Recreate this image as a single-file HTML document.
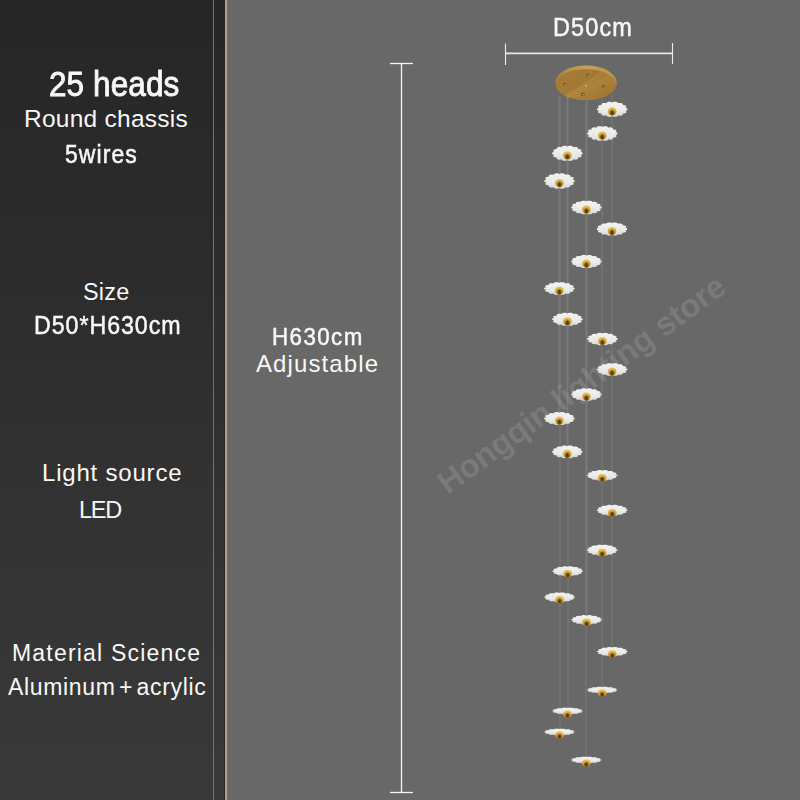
<!DOCTYPE html>
<html><head><meta charset="utf-8"><style>
html,body{margin:0;padding:0;}
body{width:800px;height:800px;position:relative;overflow:hidden;background:#686868;font-family:"Liberation Sans",sans-serif;}
#left{position:absolute;left:0;top:0;width:225px;height:800px;background:linear-gradient(to bottom,#262626 0%,#2c2c2c 35%,#333333 65%,#393939 100%);}
#l1{position:absolute;left:213px;top:0;width:1px;height:800px;background:#76726c;}
#l2{position:absolute;left:224px;top:0;width:1px;height:800px;background:#2c2622;}
#l3{position:absolute;left:225px;top:0;width:2px;height:800px;background:#ab9d8f;}
#l4{position:absolute;left:227px;top:0;width:1px;height:800px;background:#746c69;}
.t{position:absolute;color:#f8f8f8;white-space:nowrap;line-height:1;}
.m{-webkit-text-stroke:0.5px #f8f8f8;}
.wm{position:absolute;color:rgba(255,255,255,0.125);font-weight:bold;white-space:nowrap;line-height:1;transform-origin:0 100%;}
</style></head><body>
<div id="left"></div><div id="l1"></div><div id="l2"></div><div id="l3"></div><div id="l4"></div>
<div class="wm" style="left:451px;top:467px;font-size:32.5px;transform:rotate(-36deg)">Hongqin lighting store</div>
<svg width="800" height="800" viewBox="0 0 800 800" style="position:absolute;left:0;top:0">
<defs>
<linearGradient id="can" x1="0" y1="0" x2="1" y2="1"><stop offset="0" stop-color="#a87e36"/><stop offset="0.45" stop-color="#a27834"/><stop offset="0.55" stop-color="#ad843c"/><stop offset="1" stop-color="#97702e"/></linearGradient>
<linearGradient id="rim" x1="0" y1="0" x2="1" y2="0"><stop offset="0" stop-color="#a88240"/><stop offset="0.5" stop-color="#c8a252"/><stop offset="1" stop-color="#bb9448"/></linearGradient>
<linearGradient id="dome" x1="0" y1="0" x2="0" y2="1"><stop offset="0" stop-color="#eac452"/><stop offset="0.5" stop-color="#d2a43c"/><stop offset="1" stop-color="#ae8228"/></linearGradient>
<radialGradient id="domec" cx="0.5" cy="0.6" r="0.55"><stop offset="0" stop-color="#4a3006"/><stop offset="0.55" stop-color="#6a4a10" stop-opacity="0.9"/><stop offset="1" stop-color="#8a6018" stop-opacity="0"/></radialGradient>
<linearGradient id="disc" x1="0" y1="0" x2="0" y2="1"><stop offset="0" stop-color="#f2f2f0"/><stop offset="0.6" stop-color="#eaeae6"/><stop offset="1" stop-color="#d6d6d2"/></linearGradient>
<filter id="bl" x="-20%" y="-20%" width="140%" height="140%"><feGaussianBlur stdDeviation="0.35"/></filter>
</defs>
<line x1="612" y1="96" x2="612" y2="651.6" stroke="#aaa69f" stroke-width="0.6" opacity="0.55"/>
<line x1="602" y1="96" x2="602" y2="690.0" stroke="#aaa69f" stroke-width="0.6" opacity="0.55"/>
<line x1="567" y1="96" x2="567" y2="451.8" stroke="#aaa69f" stroke-width="0.6" opacity="0.55"/>
<line x1="560" y1="96" x2="560" y2="732.0" stroke="#aaa69f" stroke-width="0.6" opacity="0.55"/>
<line x1="586" y1="96" x2="586" y2="760.0" stroke="#aaa69f" stroke-width="0.6" opacity="0.55"/>
<line x1="559" y1="96" x2="559" y2="418.5" stroke="#aaa69f" stroke-width="0.6" opacity="0.55"/>
<line x1="568" y1="96" x2="568" y2="711.0" stroke="#aaa69f" stroke-width="0.6" opacity="0.55"/>
<line x1="587" y1="96" x2="587" y2="619.8" stroke="#aaa69f" stroke-width="0.6" opacity="0.55"/>
<g filter="url(#bl)">
<ellipse cx="586" cy="82.7" rx="30.6" ry="17.3" fill="url(#rim)"/>
<ellipse cx="586" cy="84.6" rx="30.3" ry="15.4" fill="url(#can)"/>
<path d="M566,97 L606,70" stroke="#bb9248" stroke-width="3" opacity="0.35"/>
<ellipse cx="587.8" cy="75.3" rx="1.7" ry="1.5" fill="#6a4c20"/>
<ellipse cx="588.1999999999999" cy="75.7" rx="0.8" ry="0.7" fill="#d8c090"/>
<ellipse cx="564.9" cy="84.3" rx="1.7" ry="1.5" fill="#6a4c20"/>
<ellipse cx="565.3" cy="84.7" rx="0.8" ry="0.7" fill="#d8c090"/>
<ellipse cx="604" cy="86.5" rx="1.7" ry="1.5" fill="#6a4c20"/>
<ellipse cx="604.4" cy="86.9" rx="0.8" ry="0.7" fill="#d8c090"/>
<ellipse cx="582.9" cy="94.2" rx="1.7" ry="1.5" fill="#6a4c20"/>
<ellipse cx="583.3" cy="94.60000000000001" rx="0.8" ry="0.7" fill="#d8c090"/>
<circle cx="586" cy="85.7" r="1" fill="#d0b070"/>
</g>
<g filter="url(#bl)"><path d="M625.11,110.78 L625.92,111.15 L626.21,111.48 L626.35,111.79 L626.37,112.10 L626.27,112.39 L626.07,112.66 L625.78,112.91 L625.38,113.13 L624.90,113.31 L624.32,113.46 L623.63,113.54 L622.55,113.46 L622.96,113.96 L622.95,114.32 L622.80,114.64 L622.55,114.92 L622.22,115.16 L621.80,115.36 L621.32,115.52 L620.77,115.63 L620.18,115.69 L619.53,115.69 L618.84,115.62 L617.95,115.30 L617.88,115.85 L617.56,116.17 L617.15,116.42 L616.69,116.62 L616.17,116.76 L615.63,116.86 L615.05,116.89 L614.47,116.87 L613.88,116.80 L613.30,116.66 L612.73,116.44 L612.20,115.97 L611.67,116.44 L611.10,116.66 L610.52,116.80 L609.93,116.87 L609.35,116.89 L608.77,116.86 L608.23,116.76 L607.71,116.62 L607.25,116.42 L606.84,116.17 L606.52,115.85 L606.45,115.30 L605.56,115.62 L604.87,115.69 L604.22,115.69 L603.63,115.63 L603.08,115.52 L602.60,115.36 L602.18,115.16 L601.85,114.92 L601.60,114.64 L601.45,114.32 L601.44,113.96 L601.85,113.46 L600.77,113.54 L600.08,113.46 L599.50,113.31 L599.02,113.13 L598.62,112.91 L598.33,112.66 L598.13,112.39 L598.03,112.10 L598.05,111.79 L598.19,111.48 L598.48,111.15 L599.29,110.78 L598.25,110.63 L597.70,110.40 L597.30,110.14 L597.02,109.87 L596.86,109.59 L596.80,109.30 L596.86,109.01 L597.02,108.73 L597.30,108.46 L597.70,108.20 L598.25,107.97 L599.29,107.82 L598.48,107.45 L598.19,107.12 L598.05,106.81 L598.03,106.50 L598.13,106.21 L598.33,105.94 L598.62,105.69 L599.02,105.47 L599.50,105.29 L600.08,105.14 L600.77,105.06 L601.85,105.14 L601.44,104.64 L601.45,104.28 L601.60,103.96 L601.85,103.68 L602.18,103.44 L602.60,103.24 L603.08,103.08 L603.63,102.97 L604.22,102.91 L604.87,102.91 L605.56,102.98 L606.45,103.30 L606.52,102.75 L606.84,102.43 L607.25,102.18 L607.71,101.98 L608.23,101.84 L608.77,101.74 L609.35,101.71 L609.93,101.73 L610.52,101.80 L611.10,101.94 L611.67,102.16 L612.20,102.63 L612.73,102.16 L613.30,101.94 L613.88,101.80 L614.47,101.73 L615.05,101.71 L615.63,101.74 L616.17,101.84 L616.69,101.98 L617.15,102.18 L617.56,102.43 L617.88,102.75 L617.95,103.30 L618.84,102.98 L619.53,102.91 L620.18,102.91 L620.77,102.97 L621.32,103.08 L621.80,103.24 L622.22,103.44 L622.55,103.68 L622.80,103.96 L622.95,104.28 L622.96,104.64 L622.55,105.14 L623.63,105.06 L624.32,105.14 L624.90,105.29 L625.38,105.47 L625.78,105.69 L626.07,105.94 L626.27,106.21 L626.37,106.50 L626.35,106.81 L626.21,107.12 L625.92,107.45 L625.11,107.82 L626.15,107.97 L626.70,108.20 L627.10,108.46 L627.38,108.73 L627.54,109.01 L627.60,109.30 L627.54,109.59 L627.38,109.87 L627.10,110.14 L626.70,110.40 L626.15,110.63Z" fill="url(#disc)"/>
<ellipse cx="612.2" cy="111.3" rx="4.3" ry="4.0" fill="url(#dome)"/>
<ellipse cx="612.2" cy="112.2" rx="2.6" ry="3.4" fill="url(#domec)"/></g>
<g filter="url(#bl)"><path d="M615.21,134.94 L616.02,135.29 L616.31,135.61 L616.45,135.91 L616.47,136.21 L616.37,136.49 L616.17,136.75 L615.88,136.99 L615.48,137.21 L615.00,137.39 L614.42,137.52 L613.73,137.61 L612.65,137.52 L613.06,138.01 L613.05,138.36 L612.90,138.66 L612.65,138.93 L612.32,139.17 L611.90,139.36 L611.42,139.52 L610.87,139.63 L610.28,139.68 L609.63,139.69 L608.94,139.62 L608.05,139.31 L607.98,139.84 L607.66,140.15 L607.25,140.39 L606.79,140.58 L606.27,140.72 L605.73,140.81 L605.15,140.85 L604.57,140.83 L603.98,140.76 L603.40,140.62 L602.83,140.41 L602.30,139.95 L601.77,140.41 L601.20,140.62 L600.62,140.76 L600.03,140.83 L599.45,140.85 L598.87,140.81 L598.33,140.72 L597.81,140.58 L597.35,140.39 L596.94,140.15 L596.62,139.84 L596.55,139.31 L595.66,139.62 L594.97,139.69 L594.32,139.68 L593.73,139.63 L593.18,139.52 L592.70,139.36 L592.28,139.17 L591.95,138.93 L591.70,138.66 L591.55,138.36 L591.54,138.01 L591.95,137.52 L590.87,137.61 L590.18,137.52 L589.60,137.39 L589.12,137.21 L588.72,136.99 L588.43,136.75 L588.23,136.49 L588.13,136.21 L588.15,135.91 L588.29,135.61 L588.58,135.29 L589.39,134.94 L588.35,134.79 L587.80,134.56 L587.40,134.32 L587.12,134.05 L586.96,133.78 L586.90,133.50 L586.96,133.22 L587.12,132.95 L587.40,132.68 L587.80,132.44 L588.35,132.21 L589.39,132.06 L588.58,131.71 L588.29,131.39 L588.15,131.09 L588.13,130.79 L588.23,130.51 L588.43,130.25 L588.72,130.01 L589.12,129.79 L589.60,129.61 L590.18,129.48 L590.87,129.39 L591.95,129.48 L591.54,128.99 L591.55,128.64 L591.70,128.34 L591.95,128.07 L592.28,127.83 L592.70,127.64 L593.18,127.48 L593.73,127.37 L594.32,127.32 L594.97,127.31 L595.66,127.38 L596.55,127.69 L596.62,127.16 L596.94,126.85 L597.35,126.61 L597.81,126.42 L598.33,126.28 L598.87,126.19 L599.45,126.15 L600.03,126.17 L600.62,126.24 L601.20,126.38 L601.77,126.59 L602.30,127.05 L602.83,126.59 L603.40,126.38 L603.98,126.24 L604.57,126.17 L605.15,126.15 L605.73,126.19 L606.27,126.28 L606.79,126.42 L607.25,126.61 L607.66,126.85 L607.98,127.16 L608.05,127.69 L608.94,127.38 L609.63,127.31 L610.28,127.32 L610.87,127.37 L611.42,127.48 L611.90,127.64 L612.32,127.83 L612.65,128.07 L612.90,128.34 L613.05,128.64 L613.06,128.99 L612.65,129.48 L613.73,129.39 L614.42,129.48 L615.00,129.61 L615.48,129.79 L615.88,130.01 L616.17,130.25 L616.37,130.51 L616.47,130.79 L616.45,131.09 L616.31,131.39 L616.02,131.71 L615.21,132.06 L616.25,132.21 L616.80,132.44 L617.20,132.68 L617.48,132.95 L617.64,133.22 L617.70,133.50 L617.64,133.78 L617.48,134.05 L617.20,134.32 L616.80,134.56 L616.25,134.79Z" fill="url(#disc)"/>
<ellipse cx="602.3" cy="135.5" rx="4.3" ry="4.0" fill="url(#dome)"/>
<ellipse cx="602.3" cy="136.4" rx="2.6" ry="3.4" fill="url(#domec)"/></g>
<g filter="url(#bl)"><path d="M580.31,154.78 L581.12,155.15 L581.41,155.48 L581.55,155.79 L581.57,156.10 L581.47,156.39 L581.27,156.66 L580.98,156.91 L580.58,157.13 L580.10,157.31 L579.52,157.46 L578.83,157.54 L577.75,157.46 L578.16,157.96 L578.15,158.32 L578.00,158.64 L577.75,158.92 L577.42,159.16 L577.00,159.36 L576.52,159.52 L575.97,159.63 L575.38,159.69 L574.73,159.69 L574.04,159.62 L573.15,159.30 L573.08,159.85 L572.76,160.17 L572.35,160.42 L571.89,160.62 L571.37,160.76 L570.83,160.86 L570.25,160.89 L569.67,160.87 L569.08,160.80 L568.50,160.66 L567.93,160.44 L567.40,159.97 L566.87,160.44 L566.30,160.66 L565.72,160.80 L565.13,160.87 L564.55,160.89 L563.97,160.86 L563.43,160.76 L562.91,160.62 L562.45,160.42 L562.04,160.17 L561.72,159.85 L561.65,159.30 L560.76,159.62 L560.07,159.69 L559.42,159.69 L558.83,159.63 L558.28,159.52 L557.80,159.36 L557.38,159.16 L557.05,158.92 L556.80,158.64 L556.65,158.32 L556.64,157.96 L557.05,157.46 L555.97,157.54 L555.28,157.46 L554.70,157.31 L554.22,157.13 L553.82,156.91 L553.53,156.66 L553.33,156.39 L553.23,156.10 L553.25,155.79 L553.39,155.48 L553.68,155.15 L554.49,154.78 L553.45,154.63 L552.90,154.40 L552.50,154.14 L552.22,153.87 L552.06,153.59 L552.00,153.30 L552.06,153.01 L552.22,152.73 L552.50,152.46 L552.90,152.20 L553.45,151.97 L554.49,151.82 L553.68,151.45 L553.39,151.12 L553.25,150.81 L553.23,150.50 L553.33,150.21 L553.53,149.94 L553.82,149.69 L554.22,149.47 L554.70,149.29 L555.28,149.14 L555.97,149.06 L557.05,149.14 L556.64,148.64 L556.65,148.28 L556.80,147.96 L557.05,147.68 L557.38,147.44 L557.80,147.24 L558.28,147.08 L558.83,146.97 L559.42,146.91 L560.07,146.91 L560.76,146.98 L561.65,147.30 L561.72,146.75 L562.04,146.43 L562.45,146.18 L562.91,145.98 L563.43,145.84 L563.97,145.74 L564.55,145.71 L565.13,145.73 L565.72,145.80 L566.30,145.94 L566.87,146.16 L567.40,146.63 L567.93,146.16 L568.50,145.94 L569.08,145.80 L569.67,145.73 L570.25,145.71 L570.83,145.74 L571.37,145.84 L571.89,145.98 L572.35,146.18 L572.76,146.43 L573.08,146.75 L573.15,147.30 L574.04,146.98 L574.73,146.91 L575.38,146.91 L575.97,146.97 L576.52,147.08 L577.00,147.24 L577.42,147.44 L577.75,147.68 L578.00,147.96 L578.15,148.28 L578.16,148.64 L577.75,149.14 L578.83,149.06 L579.52,149.14 L580.10,149.29 L580.58,149.47 L580.98,149.69 L581.27,149.94 L581.47,150.21 L581.57,150.50 L581.55,150.81 L581.41,151.12 L581.12,151.45 L580.31,151.82 L581.35,151.97 L581.90,152.20 L582.30,152.46 L582.58,152.73 L582.74,153.01 L582.80,153.30 L582.74,153.59 L582.58,153.87 L582.30,154.14 L581.90,154.40 L581.35,154.63Z" fill="url(#disc)"/>
<ellipse cx="567.4" cy="155.3" rx="4.3" ry="4.0" fill="url(#dome)"/>
<ellipse cx="567.4" cy="156.2" rx="2.6" ry="3.4" fill="url(#domec)"/></g>
<g filter="url(#bl)"><path d="M572.41,182.51 L573.22,182.89 L573.51,183.22 L573.65,183.54 L573.67,183.85 L573.57,184.15 L573.37,184.43 L573.08,184.68 L572.68,184.90 L572.20,185.09 L571.62,185.24 L570.93,185.33 L569.85,185.24 L570.26,185.75 L570.25,186.12 L570.10,186.44 L569.85,186.72 L569.52,186.97 L569.10,187.18 L568.62,187.34 L568.07,187.45 L567.48,187.51 L566.83,187.52 L566.14,187.44 L565.25,187.12 L565.18,187.68 L564.86,188.00 L564.45,188.26 L563.99,188.46 L563.47,188.61 L562.93,188.70 L562.35,188.74 L561.77,188.72 L561.18,188.64 L560.60,188.50 L560.03,188.28 L559.50,187.79 L558.97,188.28 L558.40,188.50 L557.82,188.64 L557.23,188.72 L556.65,188.74 L556.07,188.70 L555.53,188.61 L555.01,188.46 L554.55,188.26 L554.14,188.00 L553.82,187.68 L553.75,187.12 L552.86,187.44 L552.17,187.52 L551.52,187.51 L550.93,187.45 L550.38,187.34 L549.90,187.18 L549.48,186.97 L549.15,186.72 L548.90,186.44 L548.75,186.12 L548.74,185.75 L549.15,185.24 L548.07,185.33 L547.38,185.24 L546.80,185.09 L546.32,184.90 L545.92,184.68 L545.63,184.43 L545.43,184.15 L545.33,183.85 L545.35,183.54 L545.49,183.22 L545.78,182.89 L546.59,182.51 L545.55,182.35 L545.00,182.12 L544.60,181.86 L544.32,181.58 L544.16,181.29 L544.10,181.00 L544.16,180.71 L544.32,180.42 L544.60,180.14 L545.00,179.88 L545.55,179.65 L546.59,179.49 L545.78,179.11 L545.49,178.78 L545.35,178.46 L545.33,178.15 L545.43,177.85 L545.63,177.57 L545.92,177.32 L546.32,177.10 L546.80,176.91 L547.38,176.76 L548.07,176.67 L549.15,176.76 L548.74,176.25 L548.75,175.88 L548.90,175.56 L549.15,175.28 L549.48,175.03 L549.90,174.82 L550.38,174.66 L550.93,174.55 L551.52,174.49 L552.17,174.48 L552.86,174.56 L553.75,174.88 L553.82,174.32 L554.14,174.00 L554.55,173.74 L555.01,173.54 L555.53,173.39 L556.07,173.30 L556.65,173.26 L557.23,173.28 L557.82,173.36 L558.40,173.50 L558.97,173.72 L559.50,174.21 L560.03,173.72 L560.60,173.50 L561.18,173.36 L561.77,173.28 L562.35,173.26 L562.93,173.30 L563.47,173.39 L563.99,173.54 L564.45,173.74 L564.86,174.00 L565.18,174.32 L565.25,174.88 L566.14,174.56 L566.83,174.48 L567.48,174.49 L568.07,174.55 L568.62,174.66 L569.10,174.82 L569.52,175.03 L569.85,175.28 L570.10,175.56 L570.25,175.88 L570.26,176.25 L569.85,176.76 L570.93,176.67 L571.62,176.76 L572.20,176.91 L572.68,177.10 L573.08,177.32 L573.37,177.57 L573.57,177.85 L573.67,178.15 L573.65,178.46 L573.51,178.78 L573.22,179.11 L572.41,179.49 L573.45,179.65 L574.00,179.88 L574.40,180.14 L574.68,180.42 L574.84,180.71 L574.90,181.00 L574.84,181.29 L574.68,181.58 L574.40,181.86 L574.00,182.12 L573.45,182.35Z" fill="url(#disc)"/>
<ellipse cx="559.5" cy="183.0" rx="4.3" ry="4.0" fill="url(#dome)"/>
<ellipse cx="559.5" cy="183.9" rx="2.6" ry="3.4" fill="url(#domec)"/></g>
<g filter="url(#bl)"><path d="M599.31,208.84 L600.12,209.17 L600.41,209.47 L600.55,209.75 L600.57,210.03 L600.47,210.29 L600.27,210.54 L599.98,210.76 L599.58,210.96 L599.10,211.13 L598.52,211.26 L597.83,211.33 L596.75,211.25 L597.16,211.71 L597.15,212.03 L597.00,212.32 L596.75,212.57 L596.42,212.79 L596.00,212.97 L595.52,213.12 L594.97,213.22 L594.38,213.27 L593.73,213.27 L593.04,213.21 L592.15,212.92 L592.08,213.42 L591.76,213.71 L591.35,213.93 L590.89,214.11 L590.37,214.24 L589.83,214.32 L589.25,214.36 L588.67,214.34 L588.08,214.27 L587.50,214.15 L586.93,213.95 L586.40,213.52 L585.87,213.95 L585.30,214.15 L584.72,214.27 L584.13,214.34 L583.55,214.36 L582.97,214.32 L582.43,214.24 L581.91,214.11 L581.45,213.93 L581.04,213.71 L580.72,213.42 L580.65,212.92 L579.76,213.21 L579.07,213.27 L578.42,213.27 L577.83,213.22 L577.28,213.12 L576.80,212.97 L576.38,212.79 L576.05,212.57 L575.80,212.32 L575.65,212.03 L575.64,211.71 L576.05,211.25 L574.97,211.33 L574.28,211.26 L573.70,211.13 L573.22,210.96 L572.82,210.76 L572.53,210.54 L572.33,210.29 L572.23,210.03 L572.25,209.75 L572.39,209.47 L572.68,209.17 L573.49,208.84 L572.45,208.70 L571.90,208.49 L571.50,208.26 L571.22,208.02 L571.06,207.76 L571.00,207.50 L571.06,207.24 L571.22,206.98 L571.50,206.74 L571.90,206.51 L572.45,206.30 L573.49,206.16 L572.68,205.83 L572.39,205.53 L572.25,205.25 L572.23,204.97 L572.33,204.71 L572.53,204.46 L572.82,204.24 L573.22,204.04 L573.70,203.87 L574.28,203.74 L574.97,203.67 L576.05,203.75 L575.64,203.29 L575.65,202.97 L575.80,202.68 L576.05,202.43 L576.38,202.21 L576.80,202.03 L577.28,201.88 L577.83,201.78 L578.42,201.73 L579.07,201.73 L579.76,201.79 L580.65,202.08 L580.72,201.58 L581.04,201.29 L581.45,201.07 L581.91,200.89 L582.43,200.76 L582.97,200.68 L583.55,200.64 L584.13,200.66 L584.72,200.73 L585.30,200.85 L585.87,201.05 L586.40,201.48 L586.93,201.05 L587.50,200.85 L588.08,200.73 L588.67,200.66 L589.25,200.64 L589.83,200.68 L590.37,200.76 L590.89,200.89 L591.35,201.07 L591.76,201.29 L592.08,201.58 L592.15,202.08 L593.04,201.79 L593.73,201.73 L594.38,201.73 L594.97,201.78 L595.52,201.88 L596.00,202.03 L596.42,202.21 L596.75,202.43 L597.00,202.68 L597.15,202.97 L597.16,203.29 L596.75,203.75 L597.83,203.67 L598.52,203.74 L599.10,203.87 L599.58,204.04 L599.98,204.24 L600.27,204.46 L600.47,204.71 L600.57,204.97 L600.55,205.25 L600.41,205.53 L600.12,205.83 L599.31,206.16 L600.35,206.30 L600.90,206.51 L601.30,206.74 L601.58,206.98 L601.74,207.24 L601.80,207.50 L601.74,207.76 L601.58,208.02 L601.30,208.26 L600.90,208.49 L600.35,208.70Z" fill="url(#disc)"/>
<ellipse cx="586.4" cy="209.5" rx="4.3" ry="4.0" fill="url(#dome)"/>
<ellipse cx="586.4" cy="210.4" rx="2.6" ry="3.4" fill="url(#domec)"/></g>
<g filter="url(#bl)"><path d="M624.91,230.27 L625.72,230.59 L626.01,230.87 L626.15,231.14 L626.17,231.40 L626.07,231.65 L625.87,231.89 L625.58,232.10 L625.18,232.29 L624.70,232.45 L624.12,232.57 L623.43,232.64 L622.35,232.57 L622.76,233.00 L622.75,233.31 L622.60,233.58 L622.35,233.82 L622.02,234.03 L621.60,234.20 L621.12,234.34 L620.57,234.43 L619.98,234.48 L619.33,234.48 L618.64,234.42 L617.75,234.15 L617.68,234.62 L617.36,234.90 L616.95,235.11 L616.49,235.28 L615.97,235.40 L615.43,235.48 L614.85,235.52 L614.27,235.50 L613.68,235.43 L613.10,235.32 L612.53,235.13 L612.00,234.72 L611.47,235.13 L610.90,235.32 L610.32,235.43 L609.73,235.50 L609.15,235.52 L608.57,235.48 L608.03,235.40 L607.51,235.28 L607.05,235.11 L606.64,234.90 L606.32,234.62 L606.25,234.15 L605.36,234.42 L604.67,234.48 L604.02,234.48 L603.43,234.43 L602.88,234.34 L602.40,234.20 L601.98,234.03 L601.65,233.82 L601.40,233.58 L601.25,233.31 L601.24,233.00 L601.65,232.57 L600.57,232.64 L599.88,232.57 L599.30,232.45 L598.82,232.29 L598.42,232.10 L598.13,231.89 L597.93,231.65 L597.83,231.40 L597.85,231.14 L597.99,230.87 L598.28,230.59 L599.09,230.27 L598.05,230.14 L597.50,229.94 L597.10,229.72 L596.82,229.49 L596.66,229.25 L596.60,229.00 L596.66,228.75 L596.82,228.51 L597.10,228.28 L597.50,228.06 L598.05,227.86 L599.09,227.73 L598.28,227.41 L597.99,227.13 L597.85,226.86 L597.83,226.60 L597.93,226.35 L598.13,226.11 L598.42,225.90 L598.82,225.71 L599.30,225.55 L599.88,225.43 L600.57,225.36 L601.65,225.43 L601.24,225.00 L601.25,224.69 L601.40,224.42 L601.65,224.18 L601.98,223.97 L602.40,223.80 L602.88,223.66 L603.43,223.57 L604.02,223.52 L604.67,223.52 L605.36,223.58 L606.25,223.85 L606.32,223.38 L606.64,223.10 L607.05,222.89 L607.51,222.72 L608.03,222.60 L608.57,222.52 L609.15,222.48 L609.73,222.50 L610.32,222.57 L610.90,222.68 L611.47,222.87 L612.00,223.28 L612.53,222.87 L613.10,222.68 L613.68,222.57 L614.27,222.50 L614.85,222.48 L615.43,222.52 L615.97,222.60 L616.49,222.72 L616.95,222.89 L617.36,223.10 L617.68,223.38 L617.75,223.85 L618.64,223.58 L619.33,223.52 L619.98,223.52 L620.57,223.57 L621.12,223.66 L621.60,223.80 L622.02,223.97 L622.35,224.18 L622.60,224.42 L622.75,224.69 L622.76,225.00 L622.35,225.43 L623.43,225.36 L624.12,225.43 L624.70,225.55 L625.18,225.71 L625.58,225.90 L625.87,226.11 L626.07,226.35 L626.17,226.60 L626.15,226.86 L626.01,227.13 L625.72,227.41 L624.91,227.73 L625.95,227.86 L626.50,228.06 L626.90,228.28 L627.18,228.51 L627.34,228.75 L627.40,229.00 L627.34,229.25 L627.18,229.49 L626.90,229.72 L626.50,229.94 L625.95,230.14Z" fill="url(#disc)"/>
<ellipse cx="612.0" cy="231.0" rx="4.3" ry="4.0" fill="url(#dome)"/>
<ellipse cx="612.0" cy="231.9" rx="2.6" ry="3.4" fill="url(#domec)"/></g>
<g filter="url(#bl)"><path d="M599.31,262.77 L600.12,263.09 L600.41,263.37 L600.55,263.64 L600.57,263.90 L600.47,264.15 L600.27,264.39 L599.98,264.60 L599.58,264.79 L599.10,264.95 L598.52,265.07 L597.83,265.14 L596.75,265.07 L597.16,265.50 L597.15,265.81 L597.00,266.08 L596.75,266.32 L596.42,266.53 L596.00,266.70 L595.52,266.84 L594.97,266.93 L594.38,266.98 L593.73,266.98 L593.04,266.92 L592.15,266.65 L592.08,267.12 L591.76,267.40 L591.35,267.61 L590.89,267.78 L590.37,267.90 L589.83,267.98 L589.25,268.02 L588.67,268.00 L588.08,267.93 L587.50,267.82 L586.93,267.63 L586.40,267.22 L585.87,267.63 L585.30,267.82 L584.72,267.93 L584.13,268.00 L583.55,268.02 L582.97,267.98 L582.43,267.90 L581.91,267.78 L581.45,267.61 L581.04,267.40 L580.72,267.12 L580.65,266.65 L579.76,266.92 L579.07,266.98 L578.42,266.98 L577.83,266.93 L577.28,266.84 L576.80,266.70 L576.38,266.53 L576.05,266.32 L575.80,266.08 L575.65,265.81 L575.64,265.50 L576.05,265.07 L574.97,265.14 L574.28,265.07 L573.70,264.95 L573.22,264.79 L572.82,264.60 L572.53,264.39 L572.33,264.15 L572.23,263.90 L572.25,263.64 L572.39,263.37 L572.68,263.09 L573.49,262.77 L572.45,262.64 L571.90,262.44 L571.50,262.22 L571.22,261.99 L571.06,261.75 L571.00,261.50 L571.06,261.25 L571.22,261.01 L571.50,260.78 L571.90,260.56 L572.45,260.36 L573.49,260.23 L572.68,259.91 L572.39,259.63 L572.25,259.36 L572.23,259.10 L572.33,258.85 L572.53,258.61 L572.82,258.40 L573.22,258.21 L573.70,258.05 L574.28,257.93 L574.97,257.86 L576.05,257.93 L575.64,257.50 L575.65,257.19 L575.80,256.92 L576.05,256.68 L576.38,256.47 L576.80,256.30 L577.28,256.16 L577.83,256.07 L578.42,256.02 L579.07,256.02 L579.76,256.08 L580.65,256.35 L580.72,255.88 L581.04,255.60 L581.45,255.39 L581.91,255.22 L582.43,255.10 L582.97,255.02 L583.55,254.98 L584.13,255.00 L584.72,255.07 L585.30,255.18 L585.87,255.37 L586.40,255.78 L586.93,255.37 L587.50,255.18 L588.08,255.07 L588.67,255.00 L589.25,254.98 L589.83,255.02 L590.37,255.10 L590.89,255.22 L591.35,255.39 L591.76,255.60 L592.08,255.88 L592.15,256.35 L593.04,256.08 L593.73,256.02 L594.38,256.02 L594.97,256.07 L595.52,256.16 L596.00,256.30 L596.42,256.47 L596.75,256.68 L597.00,256.92 L597.15,257.19 L597.16,257.50 L596.75,257.93 L597.83,257.86 L598.52,257.93 L599.10,258.05 L599.58,258.21 L599.98,258.40 L600.27,258.61 L600.47,258.85 L600.57,259.10 L600.55,259.36 L600.41,259.63 L600.12,259.91 L599.31,260.23 L600.35,260.36 L600.90,260.56 L601.30,260.78 L601.58,261.01 L601.74,261.25 L601.80,261.50 L601.74,261.75 L601.58,261.99 L601.30,262.22 L600.90,262.44 L600.35,262.64Z" fill="url(#disc)"/>
<ellipse cx="586.4" cy="263.5" rx="4.3" ry="4.0" fill="url(#dome)"/>
<ellipse cx="586.4" cy="264.4" rx="2.6" ry="3.4" fill="url(#domec)"/></g>
<g filter="url(#bl)"><path d="M572.31,289.74 L573.12,290.05 L573.41,290.32 L573.55,290.59 L573.57,290.85 L573.47,291.09 L573.27,291.32 L572.98,291.53 L572.58,291.71 L572.10,291.87 L571.52,291.99 L570.83,292.06 L569.75,291.99 L570.16,292.41 L570.15,292.71 L570.00,292.98 L569.75,293.21 L569.42,293.41 L569.00,293.58 L568.52,293.71 L567.97,293.81 L567.38,293.86 L566.73,293.86 L566.04,293.80 L565.15,293.54 L565.08,293.99 L564.76,294.26 L564.35,294.47 L563.89,294.64 L563.37,294.76 L562.83,294.84 L562.25,294.87 L561.67,294.85 L561.08,294.79 L560.50,294.67 L559.93,294.49 L559.40,294.09 L558.87,294.49 L558.30,294.67 L557.72,294.79 L557.13,294.85 L556.55,294.87 L555.97,294.84 L555.43,294.76 L554.91,294.64 L554.45,294.47 L554.04,294.26 L553.72,293.99 L553.65,293.54 L552.76,293.80 L552.07,293.86 L551.42,293.86 L550.83,293.81 L550.28,293.71 L549.80,293.58 L549.38,293.41 L549.05,293.21 L548.80,292.98 L548.65,292.71 L548.64,292.41 L549.05,291.99 L547.97,292.06 L547.28,291.99 L546.70,291.87 L546.22,291.71 L545.82,291.53 L545.53,291.32 L545.33,291.09 L545.23,290.85 L545.25,290.59 L545.39,290.32 L545.68,290.05 L546.49,289.74 L545.45,289.61 L544.90,289.42 L544.50,289.21 L544.22,288.98 L544.06,288.74 L544.00,288.50 L544.06,288.26 L544.22,288.02 L544.50,287.79 L544.90,287.58 L545.45,287.39 L546.49,287.26 L545.68,286.95 L545.39,286.68 L545.25,286.41 L545.23,286.15 L545.33,285.91 L545.53,285.68 L545.82,285.47 L546.22,285.29 L546.70,285.13 L547.28,285.01 L547.97,284.94 L549.05,285.01 L548.64,284.59 L548.65,284.29 L548.80,284.02 L549.05,283.79 L549.38,283.59 L549.80,283.42 L550.28,283.29 L550.83,283.19 L551.42,283.14 L552.07,283.14 L552.76,283.20 L553.65,283.46 L553.72,283.01 L554.04,282.74 L554.45,282.53 L554.91,282.36 L555.43,282.24 L555.97,282.16 L556.55,282.13 L557.13,282.15 L557.72,282.21 L558.30,282.33 L558.87,282.51 L559.40,282.91 L559.93,282.51 L560.50,282.33 L561.08,282.21 L561.67,282.15 L562.25,282.13 L562.83,282.16 L563.37,282.24 L563.89,282.36 L564.35,282.53 L564.76,282.74 L565.08,283.01 L565.15,283.46 L566.04,283.20 L566.73,283.14 L567.38,283.14 L567.97,283.19 L568.52,283.29 L569.00,283.42 L569.42,283.59 L569.75,283.79 L570.00,284.02 L570.15,284.29 L570.16,284.59 L569.75,285.01 L570.83,284.94 L571.52,285.01 L572.10,285.13 L572.58,285.29 L572.98,285.47 L573.27,285.68 L573.47,285.91 L573.57,286.15 L573.55,286.41 L573.41,286.68 L573.12,286.95 L572.31,287.26 L573.35,287.39 L573.90,287.58 L574.30,287.79 L574.58,288.02 L574.74,288.26 L574.80,288.50 L574.74,288.74 L574.58,288.98 L574.30,289.21 L573.90,289.42 L573.35,289.61Z" fill="url(#disc)"/>
<ellipse cx="559.4" cy="290.5" rx="4.3" ry="4.0" fill="url(#dome)"/>
<ellipse cx="559.4" cy="291.4" rx="2.6" ry="3.4" fill="url(#domec)"/></g>
<g filter="url(#bl)"><path d="M580.31,320.58 L581.12,320.90 L581.41,321.18 L581.55,321.45 L581.57,321.72 L581.47,321.97 L581.27,322.21 L580.98,322.42 L580.58,322.61 L580.10,322.77 L579.52,322.89 L578.83,322.97 L577.75,322.89 L578.16,323.33 L578.15,323.64 L578.00,323.91 L577.75,324.15 L577.42,324.36 L577.00,324.54 L576.52,324.68 L575.97,324.77 L575.38,324.82 L574.73,324.83 L574.04,324.76 L573.15,324.49 L573.08,324.96 L572.76,325.24 L572.35,325.46 L571.89,325.63 L571.37,325.75 L570.83,325.83 L570.25,325.86 L569.67,325.85 L569.08,325.78 L568.50,325.66 L567.93,325.47 L567.40,325.06 L566.87,325.47 L566.30,325.66 L565.72,325.78 L565.13,325.85 L564.55,325.86 L563.97,325.83 L563.43,325.75 L562.91,325.63 L562.45,325.46 L562.04,325.24 L561.72,324.96 L561.65,324.49 L560.76,324.76 L560.07,324.83 L559.42,324.82 L558.83,324.77 L558.28,324.68 L557.80,324.54 L557.38,324.36 L557.05,324.15 L556.80,323.91 L556.65,323.64 L556.64,323.33 L557.05,322.89 L555.97,322.97 L555.28,322.89 L554.70,322.77 L554.22,322.61 L553.82,322.42 L553.53,322.21 L553.33,321.97 L553.23,321.72 L553.25,321.45 L553.39,321.18 L553.68,320.90 L554.49,320.58 L553.45,320.45 L552.90,320.25 L552.50,320.03 L552.22,319.79 L552.06,319.55 L552.00,319.30 L552.06,319.05 L552.22,318.81 L552.50,318.57 L552.90,318.35 L553.45,318.15 L554.49,318.02 L553.68,317.70 L553.39,317.42 L553.25,317.15 L553.23,316.88 L553.33,316.63 L553.53,316.39 L553.82,316.18 L554.22,315.99 L554.70,315.83 L555.28,315.71 L555.97,315.63 L557.05,315.71 L556.64,315.27 L556.65,314.96 L556.80,314.69 L557.05,314.45 L557.38,314.24 L557.80,314.06 L558.28,313.92 L558.83,313.83 L559.42,313.78 L560.07,313.77 L560.76,313.84 L561.65,314.11 L561.72,313.64 L562.04,313.36 L562.45,313.14 L562.91,312.97 L563.43,312.85 L563.97,312.77 L564.55,312.74 L565.13,312.75 L565.72,312.82 L566.30,312.94 L566.87,313.13 L567.40,313.54 L567.93,313.13 L568.50,312.94 L569.08,312.82 L569.67,312.75 L570.25,312.74 L570.83,312.77 L571.37,312.85 L571.89,312.97 L572.35,313.14 L572.76,313.36 L573.08,313.64 L573.15,314.11 L574.04,313.84 L574.73,313.77 L575.38,313.78 L575.97,313.83 L576.52,313.92 L577.00,314.06 L577.42,314.24 L577.75,314.45 L578.00,314.69 L578.15,314.96 L578.16,315.27 L577.75,315.71 L578.83,315.63 L579.52,315.71 L580.10,315.83 L580.58,315.99 L580.98,316.18 L581.27,316.39 L581.47,316.63 L581.57,316.88 L581.55,317.15 L581.41,317.42 L581.12,317.70 L580.31,318.02 L581.35,318.15 L581.90,318.35 L582.30,318.57 L582.58,318.81 L582.74,319.05 L582.80,319.30 L582.74,319.55 L582.58,319.79 L582.30,320.03 L581.90,320.25 L581.35,320.45Z" fill="url(#disc)"/>
<ellipse cx="567.4" cy="321.3" rx="4.3" ry="4.0" fill="url(#dome)"/>
<ellipse cx="567.4" cy="322.2" rx="2.6" ry="3.4" fill="url(#domec)"/></g>
<g filter="url(#bl)"><path d="M615.31,340.21 L616.12,340.50 L616.41,340.77 L616.55,341.03 L616.57,341.28 L616.47,341.51 L616.27,341.73 L615.98,341.94 L615.58,342.11 L615.10,342.26 L614.52,342.38 L613.83,342.45 L612.75,342.38 L613.16,342.79 L613.15,343.08 L613.00,343.34 L612.75,343.56 L612.42,343.76 L612.00,343.93 L611.52,344.05 L610.97,344.15 L610.38,344.19 L609.73,344.20 L609.04,344.14 L608.15,343.88 L608.08,344.33 L607.76,344.59 L607.35,344.79 L606.89,344.95 L606.37,345.07 L605.83,345.14 L605.25,345.17 L604.67,345.16 L604.08,345.10 L603.50,344.98 L602.93,344.81 L602.40,344.42 L601.87,344.81 L601.30,344.98 L600.72,345.10 L600.13,345.16 L599.55,345.17 L598.97,345.14 L598.43,345.07 L597.91,344.95 L597.45,344.79 L597.04,344.59 L596.72,344.33 L596.65,343.88 L595.76,344.14 L595.07,344.20 L594.42,344.19 L593.83,344.15 L593.28,344.05 L592.80,343.93 L592.38,343.76 L592.05,343.56 L591.80,343.34 L591.65,343.08 L591.64,342.79 L592.05,342.38 L590.97,342.45 L590.28,342.38 L589.70,342.26 L589.22,342.11 L588.82,341.94 L588.53,341.73 L588.33,341.51 L588.23,341.28 L588.25,341.03 L588.39,340.77 L588.68,340.50 L589.49,340.21 L588.45,340.08 L587.90,339.89 L587.50,339.69 L587.22,339.47 L587.06,339.23 L587.00,339.00 L587.06,338.77 L587.22,338.53 L587.50,338.31 L587.90,338.11 L588.45,337.92 L589.49,337.79 L588.68,337.50 L588.39,337.23 L588.25,336.97 L588.23,336.72 L588.33,336.49 L588.53,336.27 L588.82,336.06 L589.22,335.89 L589.70,335.74 L590.28,335.62 L590.97,335.55 L592.05,335.62 L591.64,335.21 L591.65,334.92 L591.80,334.66 L592.05,334.44 L592.38,334.24 L592.80,334.07 L593.28,333.95 L593.83,333.85 L594.42,333.81 L595.07,333.80 L595.76,333.86 L596.65,334.12 L596.72,333.67 L597.04,333.41 L597.45,333.21 L597.91,333.05 L598.43,332.93 L598.97,332.86 L599.55,332.83 L600.13,332.84 L600.72,332.90 L601.30,333.02 L601.87,333.19 L602.40,333.58 L602.93,333.19 L603.50,333.02 L604.08,332.90 L604.67,332.84 L605.25,332.83 L605.83,332.86 L606.37,332.93 L606.89,333.05 L607.35,333.21 L607.76,333.41 L608.08,333.67 L608.15,334.12 L609.04,333.86 L609.73,333.80 L610.38,333.81 L610.97,333.85 L611.52,333.95 L612.00,334.07 L612.42,334.24 L612.75,334.44 L613.00,334.66 L613.15,334.92 L613.16,335.21 L612.75,335.62 L613.83,335.55 L614.52,335.62 L615.10,335.74 L615.58,335.89 L615.98,336.06 L616.27,336.27 L616.47,336.49 L616.57,336.72 L616.55,336.97 L616.41,337.23 L616.12,337.50 L615.31,337.79 L616.35,337.92 L616.90,338.11 L617.30,338.31 L617.58,338.53 L617.74,338.77 L617.80,339.00 L617.74,339.23 L617.58,339.47 L617.30,339.69 L616.90,339.89 L616.35,340.08Z" fill="url(#disc)"/>
<ellipse cx="602.4" cy="341.0" rx="4.3" ry="4.0" fill="url(#dome)"/>
<ellipse cx="602.4" cy="341.9" rx="2.6" ry="3.4" fill="url(#domec)"/></g>
<g filter="url(#bl)"><path d="M625.01,370.74 L625.82,371.05 L626.11,371.32 L626.25,371.59 L626.27,371.85 L626.17,372.09 L625.97,372.32 L625.68,372.53 L625.28,372.71 L624.80,372.87 L624.22,372.99 L623.53,373.06 L622.45,372.99 L622.86,373.41 L622.85,373.71 L622.70,373.98 L622.45,374.21 L622.12,374.41 L621.70,374.58 L621.22,374.71 L620.67,374.81 L620.08,374.86 L619.43,374.86 L618.74,374.80 L617.85,374.54 L617.78,374.99 L617.46,375.26 L617.05,375.47 L616.59,375.64 L616.07,375.76 L615.53,375.84 L614.95,375.87 L614.37,375.85 L613.78,375.79 L613.20,375.67 L612.63,375.49 L612.10,375.09 L611.57,375.49 L611.00,375.67 L610.42,375.79 L609.83,375.85 L609.25,375.87 L608.67,375.84 L608.13,375.76 L607.61,375.64 L607.15,375.47 L606.74,375.26 L606.42,374.99 L606.35,374.54 L605.46,374.80 L604.77,374.86 L604.12,374.86 L603.53,374.81 L602.98,374.71 L602.50,374.58 L602.08,374.41 L601.75,374.21 L601.50,373.98 L601.35,373.71 L601.34,373.41 L601.75,372.99 L600.67,373.06 L599.98,372.99 L599.40,372.87 L598.92,372.71 L598.52,372.53 L598.23,372.32 L598.03,372.09 L597.93,371.85 L597.95,371.59 L598.09,371.32 L598.38,371.05 L599.19,370.74 L598.15,370.61 L597.60,370.42 L597.20,370.21 L596.92,369.98 L596.76,369.74 L596.70,369.50 L596.76,369.26 L596.92,369.02 L597.20,368.79 L597.60,368.58 L598.15,368.39 L599.19,368.26 L598.38,367.95 L598.09,367.68 L597.95,367.41 L597.93,367.15 L598.03,366.91 L598.23,366.68 L598.52,366.47 L598.92,366.29 L599.40,366.13 L599.98,366.01 L600.67,365.94 L601.75,366.01 L601.34,365.59 L601.35,365.29 L601.50,365.02 L601.75,364.79 L602.08,364.59 L602.50,364.42 L602.98,364.29 L603.53,364.19 L604.12,364.14 L604.77,364.14 L605.46,364.20 L606.35,364.46 L606.42,364.01 L606.74,363.74 L607.15,363.53 L607.61,363.36 L608.13,363.24 L608.67,363.16 L609.25,363.13 L609.83,363.15 L610.42,363.21 L611.00,363.33 L611.57,363.51 L612.10,363.91 L612.63,363.51 L613.20,363.33 L613.78,363.21 L614.37,363.15 L614.95,363.13 L615.53,363.16 L616.07,363.24 L616.59,363.36 L617.05,363.53 L617.46,363.74 L617.78,364.01 L617.85,364.46 L618.74,364.20 L619.43,364.14 L620.08,364.14 L620.67,364.19 L621.22,364.29 L621.70,364.42 L622.12,364.59 L622.45,364.79 L622.70,365.02 L622.85,365.29 L622.86,365.59 L622.45,366.01 L623.53,365.94 L624.22,366.01 L624.80,366.13 L625.28,366.29 L625.68,366.47 L625.97,366.68 L626.17,366.91 L626.27,367.15 L626.25,367.41 L626.11,367.68 L625.82,367.95 L625.01,368.26 L626.05,368.39 L626.60,368.58 L627.00,368.79 L627.28,369.02 L627.44,369.26 L627.50,369.50 L627.44,369.74 L627.28,369.98 L627.00,370.21 L626.60,370.42 L626.05,370.61Z" fill="url(#disc)"/>
<ellipse cx="612.1" cy="371.5" rx="4.3" ry="4.0" fill="url(#dome)"/>
<ellipse cx="612.1" cy="372.4" rx="2.6" ry="3.4" fill="url(#domec)"/></g>
<g filter="url(#bl)"><path d="M599.31,395.72 L600.12,396.02 L600.41,396.28 L600.55,396.54 L600.57,396.79 L600.47,397.03 L600.27,397.26 L599.98,397.46 L599.58,397.64 L599.10,397.79 L598.52,397.91 L597.83,397.98 L596.75,397.90 L597.16,398.32 L597.15,398.61 L597.00,398.87 L596.75,399.10 L596.42,399.30 L596.00,399.46 L595.52,399.59 L594.97,399.69 L594.38,399.74 L593.73,399.74 L593.04,399.68 L592.15,399.42 L592.08,399.87 L591.76,400.13 L591.35,400.34 L590.89,400.50 L590.37,400.62 L589.83,400.69 L589.25,400.72 L588.67,400.71 L588.08,400.64 L587.50,400.53 L586.93,400.35 L586.40,399.96 L585.87,400.35 L585.30,400.53 L584.72,400.64 L584.13,400.71 L583.55,400.72 L582.97,400.69 L582.43,400.62 L581.91,400.50 L581.45,400.34 L581.04,400.13 L580.72,399.87 L580.65,399.42 L579.76,399.68 L579.07,399.74 L578.42,399.74 L577.83,399.69 L577.28,399.59 L576.80,399.46 L576.38,399.30 L576.05,399.10 L575.80,398.87 L575.65,398.61 L575.64,398.32 L576.05,397.90 L574.97,397.98 L574.28,397.91 L573.70,397.79 L573.22,397.64 L572.82,397.46 L572.53,397.26 L572.33,397.03 L572.23,396.79 L572.25,396.54 L572.39,396.28 L572.68,396.02 L573.49,395.72 L572.45,395.59 L571.90,395.40 L571.50,395.19 L571.22,394.97 L571.06,394.74 L571.00,394.50 L571.06,394.26 L571.22,394.03 L571.50,393.81 L571.90,393.60 L572.45,393.41 L573.49,393.28 L572.68,392.98 L572.39,392.72 L572.25,392.46 L572.23,392.21 L572.33,391.97 L572.53,391.74 L572.82,391.54 L573.22,391.36 L573.70,391.21 L574.28,391.09 L574.97,391.02 L576.05,391.10 L575.64,390.68 L575.65,390.39 L575.80,390.13 L576.05,389.90 L576.38,389.70 L576.80,389.54 L577.28,389.41 L577.83,389.31 L578.42,389.26 L579.07,389.26 L579.76,389.32 L580.65,389.58 L580.72,389.13 L581.04,388.87 L581.45,388.66 L581.91,388.50 L582.43,388.38 L582.97,388.31 L583.55,388.28 L584.13,388.29 L584.72,388.36 L585.30,388.47 L585.87,388.65 L586.40,389.04 L586.93,388.65 L587.50,388.47 L588.08,388.36 L588.67,388.29 L589.25,388.28 L589.83,388.31 L590.37,388.38 L590.89,388.50 L591.35,388.66 L591.76,388.87 L592.08,389.13 L592.15,389.58 L593.04,389.32 L593.73,389.26 L594.38,389.26 L594.97,389.31 L595.52,389.41 L596.00,389.54 L596.42,389.70 L596.75,389.90 L597.00,390.13 L597.15,390.39 L597.16,390.68 L596.75,391.10 L597.83,391.02 L598.52,391.09 L599.10,391.21 L599.58,391.36 L599.98,391.54 L600.27,391.74 L600.47,391.97 L600.57,392.21 L600.55,392.46 L600.41,392.72 L600.12,392.98 L599.31,393.28 L600.35,393.41 L600.90,393.60 L601.30,393.81 L601.58,394.03 L601.74,394.26 L601.80,394.50 L601.74,394.74 L601.58,394.97 L601.30,395.19 L600.90,395.40 L600.35,395.59Z" fill="url(#disc)"/>
<ellipse cx="586.4" cy="396.5" rx="4.3" ry="4.0" fill="url(#dome)"/>
<ellipse cx="586.4" cy="397.4" rx="2.6" ry="3.4" fill="url(#domec)"/></g>
<g filter="url(#bl)"><path d="M572.31,419.75 L573.12,420.06 L573.41,420.34 L573.55,420.61 L573.57,420.87 L573.47,421.11 L573.27,421.34 L572.98,421.55 L572.58,421.74 L572.10,421.89 L571.52,422.01 L570.83,422.09 L569.75,422.01 L570.16,422.44 L570.15,422.74 L570.00,423.01 L569.75,423.25 L569.42,423.45 L569.00,423.62 L568.52,423.75 L567.97,423.85 L567.38,423.90 L566.73,423.90 L566.04,423.84 L565.15,423.58 L565.08,424.04 L564.76,424.31 L564.35,424.52 L563.89,424.69 L563.37,424.81 L562.83,424.89 L562.25,424.92 L561.67,424.90 L561.08,424.84 L560.50,424.72 L559.93,424.54 L559.40,424.13 L558.87,424.54 L558.30,424.72 L557.72,424.84 L557.13,424.90 L556.55,424.92 L555.97,424.89 L555.43,424.81 L554.91,424.69 L554.45,424.52 L554.04,424.31 L553.72,424.04 L553.65,423.58 L552.76,423.84 L552.07,423.90 L551.42,423.90 L550.83,423.85 L550.28,423.75 L549.80,423.62 L549.38,423.45 L549.05,423.25 L548.80,423.01 L548.65,422.74 L548.64,422.44 L549.05,422.01 L547.97,422.09 L547.28,422.01 L546.70,421.89 L546.22,421.74 L545.82,421.55 L545.53,421.34 L545.33,421.11 L545.23,420.87 L545.25,420.61 L545.39,420.34 L545.68,420.06 L546.49,419.75 L545.45,419.62 L544.90,419.43 L544.50,419.21 L544.22,418.98 L544.06,418.74 L544.00,418.50 L544.06,418.26 L544.22,418.02 L544.50,417.79 L544.90,417.57 L545.45,417.38 L546.49,417.25 L545.68,416.94 L545.39,416.66 L545.25,416.39 L545.23,416.13 L545.33,415.89 L545.53,415.66 L545.82,415.45 L546.22,415.26 L546.70,415.11 L547.28,414.99 L547.97,414.91 L549.05,414.99 L548.64,414.56 L548.65,414.26 L548.80,413.99 L549.05,413.75 L549.38,413.55 L549.80,413.38 L550.28,413.25 L550.83,413.15 L551.42,413.10 L552.07,413.10 L552.76,413.16 L553.65,413.42 L553.72,412.96 L554.04,412.69 L554.45,412.48 L554.91,412.31 L555.43,412.19 L555.97,412.11 L556.55,412.08 L557.13,412.10 L557.72,412.16 L558.30,412.28 L558.87,412.46 L559.40,412.87 L559.93,412.46 L560.50,412.28 L561.08,412.16 L561.67,412.10 L562.25,412.08 L562.83,412.11 L563.37,412.19 L563.89,412.31 L564.35,412.48 L564.76,412.69 L565.08,412.96 L565.15,413.42 L566.04,413.16 L566.73,413.10 L567.38,413.10 L567.97,413.15 L568.52,413.25 L569.00,413.38 L569.42,413.55 L569.75,413.75 L570.00,413.99 L570.15,414.26 L570.16,414.56 L569.75,414.99 L570.83,414.91 L571.52,414.99 L572.10,415.11 L572.58,415.26 L572.98,415.45 L573.27,415.66 L573.47,415.89 L573.57,416.13 L573.55,416.39 L573.41,416.66 L573.12,416.94 L572.31,417.25 L573.35,417.38 L573.90,417.57 L574.30,417.79 L574.58,418.02 L574.74,418.26 L574.80,418.50 L574.74,418.74 L574.58,418.98 L574.30,419.21 L573.90,419.43 L573.35,419.62Z" fill="url(#disc)"/>
<ellipse cx="559.4" cy="420.5" rx="4.3" ry="4.0" fill="url(#dome)"/>
<ellipse cx="559.4" cy="421.4" rx="2.6" ry="3.4" fill="url(#domec)"/></g>
<g filter="url(#bl)"><path d="M580.21,453.04 L581.02,453.35 L581.31,453.62 L581.45,453.89 L581.47,454.15 L581.37,454.39 L581.17,454.62 L580.88,454.83 L580.48,455.01 L580.00,455.17 L579.42,455.29 L578.73,455.36 L577.65,455.29 L578.06,455.71 L578.05,456.01 L577.90,456.28 L577.65,456.51 L577.32,456.71 L576.90,456.88 L576.42,457.01 L575.87,457.11 L575.28,457.16 L574.63,457.16 L573.94,457.10 L573.05,456.84 L572.98,457.29 L572.66,457.56 L572.25,457.77 L571.79,457.94 L571.27,458.06 L570.73,458.14 L570.15,458.17 L569.57,458.15 L568.98,458.09 L568.40,457.97 L567.83,457.79 L567.30,457.39 L566.77,457.79 L566.20,457.97 L565.62,458.09 L565.03,458.15 L564.45,458.17 L563.87,458.14 L563.33,458.06 L562.81,457.94 L562.35,457.77 L561.94,457.56 L561.62,457.29 L561.55,456.84 L560.66,457.10 L559.97,457.16 L559.32,457.16 L558.73,457.11 L558.18,457.01 L557.70,456.88 L557.28,456.71 L556.95,456.51 L556.70,456.28 L556.55,456.01 L556.54,455.71 L556.95,455.29 L555.87,455.36 L555.18,455.29 L554.60,455.17 L554.12,455.01 L553.72,454.83 L553.43,454.62 L553.23,454.39 L553.13,454.15 L553.15,453.89 L553.29,453.62 L553.58,453.35 L554.39,453.04 L553.35,452.91 L552.80,452.72 L552.40,452.51 L552.12,452.28 L551.96,452.04 L551.90,451.80 L551.96,451.56 L552.12,451.32 L552.40,451.09 L552.80,450.88 L553.35,450.69 L554.39,450.56 L553.58,450.25 L553.29,449.98 L553.15,449.71 L553.13,449.45 L553.23,449.21 L553.43,448.98 L553.72,448.77 L554.12,448.59 L554.60,448.43 L555.18,448.31 L555.87,448.24 L556.95,448.31 L556.54,447.89 L556.55,447.59 L556.70,447.32 L556.95,447.09 L557.28,446.89 L557.70,446.72 L558.18,446.59 L558.73,446.49 L559.32,446.44 L559.97,446.44 L560.66,446.50 L561.55,446.76 L561.62,446.31 L561.94,446.04 L562.35,445.83 L562.81,445.66 L563.33,445.54 L563.87,445.46 L564.45,445.43 L565.03,445.45 L565.62,445.51 L566.20,445.63 L566.77,445.81 L567.30,446.21 L567.83,445.81 L568.40,445.63 L568.98,445.51 L569.57,445.45 L570.15,445.43 L570.73,445.46 L571.27,445.54 L571.79,445.66 L572.25,445.83 L572.66,446.04 L572.98,446.31 L573.05,446.76 L573.94,446.50 L574.63,446.44 L575.28,446.44 L575.87,446.49 L576.42,446.59 L576.90,446.72 L577.32,446.89 L577.65,447.09 L577.90,447.32 L578.05,447.59 L578.06,447.89 L577.65,448.31 L578.73,448.24 L579.42,448.31 L580.00,448.43 L580.48,448.59 L580.88,448.77 L581.17,448.98 L581.37,449.21 L581.47,449.45 L581.45,449.71 L581.31,449.98 L581.02,450.25 L580.21,450.56 L581.25,450.69 L581.80,450.88 L582.20,451.09 L582.48,451.32 L582.64,451.56 L582.70,451.80 L582.64,452.04 L582.48,452.28 L582.20,452.51 L581.80,452.72 L581.25,452.91Z" fill="url(#disc)"/>
<ellipse cx="567.3" cy="453.8" rx="4.3" ry="4.0" fill="url(#dome)"/>
<ellipse cx="567.3" cy="454.7" rx="2.6" ry="3.4" fill="url(#domec)"/></g>
<g filter="url(#bl)"><path d="M615.11,476.32 L615.92,476.58 L616.21,476.80 L616.35,477.02 L616.37,477.23 L616.27,477.43 L616.07,477.62 L615.78,477.79 L615.38,477.94 L614.90,478.07 L614.32,478.17 L613.63,478.23 L612.55,478.17 L612.96,478.52 L612.95,478.77 L612.80,478.98 L612.55,479.18 L612.22,479.34 L611.80,479.48 L611.32,479.59 L610.77,479.67 L610.18,479.71 L609.53,479.71 L608.84,479.66 L607.95,479.45 L607.88,479.82 L607.56,480.04 L607.15,480.22 L606.69,480.35 L606.17,480.45 L605.63,480.52 L605.05,480.54 L604.47,480.53 L603.88,480.48 L603.30,480.38 L602.73,480.23 L602.20,479.90 L601.67,480.23 L601.10,480.38 L600.52,480.48 L599.93,480.53 L599.35,480.54 L598.77,480.52 L598.23,480.45 L597.71,480.35 L597.25,480.22 L596.84,480.04 L596.52,479.82 L596.45,479.45 L595.56,479.66 L594.87,479.71 L594.22,479.71 L593.63,479.67 L593.08,479.59 L592.60,479.48 L592.18,479.34 L591.85,479.18 L591.60,478.98 L591.45,478.77 L591.44,478.52 L591.85,478.17 L590.77,478.23 L590.08,478.17 L589.50,478.07 L589.02,477.94 L588.62,477.79 L588.33,477.62 L588.13,477.43 L588.03,477.23 L588.05,477.02 L588.19,476.80 L588.48,476.58 L589.29,476.32 L588.25,476.22 L587.70,476.06 L587.30,475.88 L587.02,475.70 L586.86,475.50 L586.80,475.30 L586.86,475.10 L587.02,474.90 L587.30,474.72 L587.70,474.54 L588.25,474.38 L589.29,474.28 L588.48,474.02 L588.19,473.80 L588.05,473.58 L588.03,473.37 L588.13,473.17 L588.33,472.98 L588.62,472.81 L589.02,472.66 L589.50,472.53 L590.08,472.43 L590.77,472.37 L591.85,472.43 L591.44,472.08 L591.45,471.83 L591.60,471.62 L591.85,471.42 L592.18,471.26 L592.60,471.12 L593.08,471.01 L593.63,470.93 L594.22,470.89 L594.87,470.89 L595.56,470.94 L596.45,471.15 L596.52,470.78 L596.84,470.56 L597.25,470.38 L597.71,470.25 L598.23,470.15 L598.77,470.08 L599.35,470.06 L599.93,470.07 L600.52,470.12 L601.10,470.22 L601.67,470.37 L602.20,470.70 L602.73,470.37 L603.30,470.22 L603.88,470.12 L604.47,470.07 L605.05,470.06 L605.63,470.08 L606.17,470.15 L606.69,470.25 L607.15,470.38 L607.56,470.56 L607.88,470.78 L607.95,471.15 L608.84,470.94 L609.53,470.89 L610.18,470.89 L610.77,470.93 L611.32,471.01 L611.80,471.12 L612.22,471.26 L612.55,471.42 L612.80,471.62 L612.95,471.83 L612.96,472.08 L612.55,472.43 L613.63,472.37 L614.32,472.43 L614.90,472.53 L615.38,472.66 L615.78,472.81 L616.07,472.98 L616.27,473.17 L616.37,473.37 L616.35,473.58 L616.21,473.80 L615.92,474.02 L615.11,474.28 L616.15,474.38 L616.70,474.54 L617.10,474.72 L617.38,474.90 L617.54,475.10 L617.60,475.30 L617.54,475.50 L617.38,475.70 L617.10,475.88 L616.70,476.06 L616.15,476.22Z" fill="url(#disc)"/>
<ellipse cx="602.2" cy="477.8" rx="4.3" ry="3.8" fill="url(#dome)"/>
<ellipse cx="602.2" cy="478.7" rx="2.6" ry="3.1" fill="url(#domec)"/></g>
<g filter="url(#bl)"><path d="M625.11,511.25 L625.92,511.51 L626.21,511.74 L626.35,511.97 L626.37,512.19 L626.27,512.39 L626.07,512.59 L625.78,512.76 L625.38,512.92 L624.90,513.05 L624.32,513.15 L623.63,513.21 L622.55,513.15 L622.96,513.51 L622.95,513.76 L622.80,513.99 L622.55,514.19 L622.22,514.36 L621.80,514.50 L621.32,514.61 L620.77,514.69 L620.18,514.73 L619.53,514.74 L618.84,514.68 L617.95,514.46 L617.88,514.85 L617.56,515.08 L617.15,515.25 L616.69,515.39 L616.17,515.50 L615.63,515.56 L615.05,515.59 L614.47,515.58 L613.88,515.52 L613.30,515.42 L612.73,515.27 L612.20,514.93 L611.67,515.27 L611.10,515.42 L610.52,515.52 L609.93,515.58 L609.35,515.59 L608.77,515.56 L608.23,515.50 L607.71,515.39 L607.25,515.25 L606.84,515.08 L606.52,514.85 L606.45,514.46 L605.56,514.68 L604.87,514.74 L604.22,514.73 L603.63,514.69 L603.08,514.61 L602.60,514.50 L602.18,514.36 L601.85,514.19 L601.60,513.99 L601.45,513.76 L601.44,513.51 L601.85,513.15 L600.77,513.21 L600.08,513.15 L599.50,513.05 L599.02,512.92 L598.62,512.76 L598.33,512.59 L598.13,512.39 L598.03,512.19 L598.05,511.97 L598.19,511.74 L598.48,511.51 L599.29,511.25 L598.25,511.14 L597.70,510.98 L597.30,510.80 L597.02,510.61 L596.86,510.41 L596.80,510.20 L596.86,509.99 L597.02,509.79 L597.30,509.60 L597.70,509.42 L598.25,509.26 L599.29,509.15 L598.48,508.89 L598.19,508.66 L598.05,508.43 L598.03,508.21 L598.13,508.01 L598.33,507.81 L598.62,507.64 L599.02,507.48 L599.50,507.35 L600.08,507.25 L600.77,507.19 L601.85,507.25 L601.44,506.89 L601.45,506.64 L601.60,506.41 L601.85,506.21 L602.18,506.04 L602.60,505.90 L603.08,505.79 L603.63,505.71 L604.22,505.67 L604.87,505.66 L605.56,505.72 L606.45,505.94 L606.52,505.55 L606.84,505.32 L607.25,505.15 L607.71,505.01 L608.23,504.90 L608.77,504.84 L609.35,504.81 L609.93,504.82 L610.52,504.88 L611.10,504.98 L611.67,505.13 L612.20,505.47 L612.73,505.13 L613.30,504.98 L613.88,504.88 L614.47,504.82 L615.05,504.81 L615.63,504.84 L616.17,504.90 L616.69,505.01 L617.15,505.15 L617.56,505.32 L617.88,505.55 L617.95,505.94 L618.84,505.72 L619.53,505.66 L620.18,505.67 L620.77,505.71 L621.32,505.79 L621.80,505.90 L622.22,506.04 L622.55,506.21 L622.80,506.41 L622.95,506.64 L622.96,506.89 L622.55,507.25 L623.63,507.19 L624.32,507.25 L624.90,507.35 L625.38,507.48 L625.78,507.64 L626.07,507.81 L626.27,508.01 L626.37,508.21 L626.35,508.43 L626.21,508.66 L625.92,508.89 L625.11,509.15 L626.15,509.26 L626.70,509.42 L627.10,509.60 L627.38,509.79 L627.54,509.99 L627.60,510.20 L627.54,510.41 L627.38,510.61 L627.10,510.80 L626.70,510.98 L626.15,511.14Z" fill="url(#disc)"/>
<ellipse cx="612.2" cy="512.7" rx="4.3" ry="3.8" fill="url(#dome)"/>
<ellipse cx="612.2" cy="513.6" rx="2.6" ry="3.1" fill="url(#domec)"/></g>
<g filter="url(#bl)"><path d="M615.11,551.15 L615.92,551.41 L616.21,551.64 L616.35,551.87 L616.37,552.09 L616.27,552.29 L616.07,552.49 L615.78,552.66 L615.38,552.82 L614.90,552.95 L614.32,553.05 L613.63,553.11 L612.55,553.05 L612.96,553.41 L612.95,553.66 L612.80,553.89 L612.55,554.09 L612.22,554.26 L611.80,554.40 L611.32,554.51 L610.77,554.59 L610.18,554.63 L609.53,554.64 L608.84,554.58 L607.95,554.36 L607.88,554.75 L607.56,554.98 L607.15,555.15 L606.69,555.29 L606.17,555.40 L605.63,555.46 L605.05,555.49 L604.47,555.48 L603.88,555.42 L603.30,555.32 L602.73,555.17 L602.20,554.83 L601.67,555.17 L601.10,555.32 L600.52,555.42 L599.93,555.48 L599.35,555.49 L598.77,555.46 L598.23,555.40 L597.71,555.29 L597.25,555.15 L596.84,554.98 L596.52,554.75 L596.45,554.36 L595.56,554.58 L594.87,554.64 L594.22,554.63 L593.63,554.59 L593.08,554.51 L592.60,554.40 L592.18,554.26 L591.85,554.09 L591.60,553.89 L591.45,553.66 L591.44,553.41 L591.85,553.05 L590.77,553.11 L590.08,553.05 L589.50,552.95 L589.02,552.82 L588.62,552.66 L588.33,552.49 L588.13,552.29 L588.03,552.09 L588.05,551.87 L588.19,551.64 L588.48,551.41 L589.29,551.15 L588.25,551.04 L587.70,550.88 L587.30,550.70 L587.02,550.51 L586.86,550.31 L586.80,550.10 L586.86,549.89 L587.02,549.69 L587.30,549.50 L587.70,549.32 L588.25,549.16 L589.29,549.05 L588.48,548.79 L588.19,548.56 L588.05,548.33 L588.03,548.11 L588.13,547.91 L588.33,547.71 L588.62,547.54 L589.02,547.38 L589.50,547.25 L590.08,547.15 L590.77,547.09 L591.85,547.15 L591.44,546.79 L591.45,546.54 L591.60,546.31 L591.85,546.11 L592.18,545.94 L592.60,545.80 L593.08,545.69 L593.63,545.61 L594.22,545.57 L594.87,545.56 L595.56,545.62 L596.45,545.84 L596.52,545.45 L596.84,545.22 L597.25,545.05 L597.71,544.91 L598.23,544.80 L598.77,544.74 L599.35,544.71 L599.93,544.72 L600.52,544.78 L601.10,544.88 L601.67,545.03 L602.20,545.37 L602.73,545.03 L603.30,544.88 L603.88,544.78 L604.47,544.72 L605.05,544.71 L605.63,544.74 L606.17,544.80 L606.69,544.91 L607.15,545.05 L607.56,545.22 L607.88,545.45 L607.95,545.84 L608.84,545.62 L609.53,545.56 L610.18,545.57 L610.77,545.61 L611.32,545.69 L611.80,545.80 L612.22,545.94 L612.55,546.11 L612.80,546.31 L612.95,546.54 L612.96,546.79 L612.55,547.15 L613.63,547.09 L614.32,547.15 L614.90,547.25 L615.38,547.38 L615.78,547.54 L616.07,547.71 L616.27,547.91 L616.37,548.11 L616.35,548.33 L616.21,548.56 L615.92,548.79 L615.11,549.05 L616.15,549.16 L616.70,549.32 L617.10,549.50 L617.38,549.69 L617.54,549.89 L617.60,550.10 L617.54,550.31 L617.38,550.51 L617.10,550.70 L616.70,550.88 L616.15,551.04Z" fill="url(#disc)"/>
<ellipse cx="602.2" cy="552.6" rx="4.3" ry="3.8" fill="url(#dome)"/>
<ellipse cx="602.2" cy="553.5" rx="2.6" ry="3.1" fill="url(#domec)"/></g>
<g filter="url(#bl)"><path d="M580.61,572.16 L581.42,572.39 L581.71,572.60 L581.85,572.81 L581.87,573.01 L581.77,573.19 L581.57,573.37 L581.28,573.53 L580.88,573.67 L580.40,573.79 L579.82,573.88 L579.13,573.94 L578.05,573.88 L578.46,574.21 L578.45,574.44 L578.30,574.64 L578.05,574.82 L577.72,574.98 L577.30,575.11 L576.82,575.21 L576.27,575.28 L575.68,575.32 L575.03,575.32 L574.34,575.28 L573.45,575.07 L573.38,575.43 L573.06,575.63 L572.65,575.80 L572.19,575.92 L571.67,576.02 L571.13,576.07 L570.55,576.10 L569.97,576.09 L569.38,576.04 L568.80,575.95 L568.23,575.81 L567.70,575.50 L567.17,575.81 L566.60,575.95 L566.02,576.04 L565.43,576.09 L564.85,576.10 L564.27,576.07 L563.73,576.02 L563.21,575.92 L562.75,575.80 L562.34,575.63 L562.02,575.43 L561.95,575.07 L561.06,575.28 L560.37,575.32 L559.72,575.32 L559.13,575.28 L558.58,575.21 L558.10,575.11 L557.68,574.98 L557.35,574.82 L557.10,574.64 L556.95,574.44 L556.94,574.21 L557.35,573.88 L556.27,573.94 L555.58,573.88 L555.00,573.79 L554.52,573.67 L554.12,573.53 L553.83,573.37 L553.63,573.19 L553.53,573.01 L553.55,572.81 L553.69,572.60 L553.98,572.39 L554.79,572.16 L553.75,572.06 L553.20,571.91 L552.80,571.75 L552.52,571.57 L552.36,571.39 L552.30,571.20 L552.36,571.01 L552.52,570.83 L552.80,570.65 L553.20,570.49 L553.75,570.34 L554.79,570.24 L553.98,570.01 L553.69,569.80 L553.55,569.59 L553.53,569.39 L553.63,569.21 L553.83,569.03 L554.12,568.87 L554.52,568.73 L555.00,568.61 L555.58,568.52 L556.27,568.46 L557.35,568.52 L556.94,568.19 L556.95,567.96 L557.10,567.76 L557.35,567.58 L557.68,567.42 L558.10,567.29 L558.58,567.19 L559.13,567.12 L559.72,567.08 L560.37,567.08 L561.06,567.12 L561.95,567.33 L562.02,566.97 L562.34,566.77 L562.75,566.60 L563.21,566.48 L563.73,566.38 L564.27,566.33 L564.85,566.30 L565.43,566.31 L566.02,566.36 L566.60,566.45 L567.17,566.59 L567.70,566.90 L568.23,566.59 L568.80,566.45 L569.38,566.36 L569.97,566.31 L570.55,566.30 L571.13,566.33 L571.67,566.38 L572.19,566.48 L572.65,566.60 L573.06,566.77 L573.38,566.97 L573.45,567.33 L574.34,567.12 L575.03,567.08 L575.68,567.08 L576.27,567.12 L576.82,567.19 L577.30,567.29 L577.72,567.42 L578.05,567.58 L578.30,567.76 L578.45,567.96 L578.46,568.19 L578.05,568.52 L579.13,568.46 L579.82,568.52 L580.40,568.61 L580.88,568.73 L581.28,568.87 L581.57,569.03 L581.77,569.21 L581.87,569.39 L581.85,569.59 L581.71,569.80 L581.42,570.01 L580.61,570.24 L581.65,570.34 L582.20,570.49 L582.60,570.65 L582.88,570.83 L583.04,571.01 L583.10,571.20 L583.04,571.39 L582.88,571.57 L582.60,571.75 L582.20,571.91 L581.65,572.06Z" fill="url(#disc)"/>
<ellipse cx="567.7" cy="573.7" rx="4.3" ry="3.8" fill="url(#dome)"/>
<ellipse cx="567.7" cy="574.6" rx="2.6" ry="3.1" fill="url(#domec)"/></g>
<g filter="url(#bl)"><path d="M572.51,598.13 L573.32,598.36 L573.61,598.56 L573.75,598.76 L573.77,598.95 L573.67,599.13 L573.47,599.30 L573.18,599.46 L572.78,599.60 L572.30,599.71 L571.72,599.80 L571.03,599.86 L569.95,599.80 L570.36,600.12 L570.35,600.34 L570.20,600.54 L569.95,600.71 L569.62,600.87 L569.20,600.99 L568.72,601.09 L568.17,601.16 L567.58,601.20 L566.93,601.20 L566.24,601.15 L565.35,600.96 L565.28,601.30 L564.96,601.50 L564.55,601.66 L564.09,601.78 L563.57,601.87 L563.03,601.93 L562.45,601.95 L561.87,601.94 L561.28,601.89 L560.70,601.81 L560.13,601.67 L559.60,601.37 L559.07,601.67 L558.50,601.81 L557.92,601.89 L557.33,601.94 L556.75,601.95 L556.17,601.93 L555.63,601.87 L555.11,601.78 L554.65,601.66 L554.24,601.50 L553.92,601.30 L553.85,600.96 L552.96,601.15 L552.27,601.20 L551.62,601.20 L551.03,601.16 L550.48,601.09 L550.00,600.99 L549.58,600.87 L549.25,600.71 L549.00,600.54 L548.85,600.34 L548.84,600.12 L549.25,599.80 L548.17,599.86 L547.48,599.80 L546.90,599.71 L546.42,599.60 L546.02,599.46 L545.73,599.30 L545.53,599.13 L545.43,598.95 L545.45,598.76 L545.59,598.56 L545.88,598.36 L546.69,598.13 L545.65,598.03 L545.10,597.89 L544.70,597.73 L544.42,597.56 L544.26,597.38 L544.20,597.20 L544.26,597.02 L544.42,596.84 L544.70,596.67 L545.10,596.51 L545.65,596.37 L546.69,596.27 L545.88,596.04 L545.59,595.84 L545.45,595.64 L545.43,595.45 L545.53,595.27 L545.73,595.10 L546.02,594.94 L546.42,594.80 L546.90,594.69 L547.48,594.60 L548.17,594.54 L549.25,594.60 L548.84,594.28 L548.85,594.06 L549.00,593.86 L549.25,593.69 L549.58,593.53 L550.00,593.41 L550.48,593.31 L551.03,593.24 L551.62,593.20 L552.27,593.20 L552.96,593.25 L553.85,593.44 L553.92,593.10 L554.24,592.90 L554.65,592.74 L555.11,592.62 L555.63,592.53 L556.17,592.47 L556.75,592.45 L557.33,592.46 L557.92,592.51 L558.50,592.59 L559.07,592.73 L559.60,593.03 L560.13,592.73 L560.70,592.59 L561.28,592.51 L561.87,592.46 L562.45,592.45 L563.03,592.47 L563.57,592.53 L564.09,592.62 L564.55,592.74 L564.96,592.90 L565.28,593.10 L565.35,593.44 L566.24,593.25 L566.93,593.20 L567.58,593.20 L568.17,593.24 L568.72,593.31 L569.20,593.41 L569.62,593.53 L569.95,593.69 L570.20,593.86 L570.35,594.06 L570.36,594.28 L569.95,594.60 L571.03,594.54 L571.72,594.60 L572.30,594.69 L572.78,594.80 L573.18,594.94 L573.47,595.10 L573.67,595.27 L573.77,595.45 L573.75,595.64 L573.61,595.84 L573.32,596.04 L572.51,596.27 L573.55,596.37 L574.10,596.51 L574.50,596.67 L574.78,596.84 L574.94,597.02 L575.00,597.20 L574.94,597.38 L574.78,597.56 L574.50,597.73 L574.10,597.89 L573.55,598.03Z" fill="url(#disc)"/>
<ellipse cx="559.6" cy="599.7" rx="4.3" ry="3.8" fill="url(#dome)"/>
<ellipse cx="559.6" cy="600.6" rx="2.6" ry="3.1" fill="url(#domec)"/></g>
<g filter="url(#bl)"><path d="M599.51,620.72 L600.32,620.95 L600.61,621.15 L600.75,621.34 L600.77,621.53 L600.67,621.71 L600.47,621.88 L600.18,622.04 L599.78,622.17 L599.30,622.29 L598.72,622.38 L598.03,622.43 L596.95,622.37 L597.36,622.69 L597.35,622.91 L597.20,623.10 L596.95,623.28 L596.62,623.43 L596.20,623.55 L595.72,623.65 L595.17,623.72 L594.58,623.76 L593.93,623.76 L593.24,623.71 L592.35,623.52 L592.28,623.86 L591.96,624.06 L591.55,624.21 L591.09,624.33 L590.57,624.42 L590.03,624.48 L589.45,624.50 L588.87,624.49 L588.28,624.44 L587.70,624.36 L587.13,624.22 L586.60,623.93 L586.07,624.22 L585.50,624.36 L584.92,624.44 L584.33,624.49 L583.75,624.50 L583.17,624.48 L582.63,624.42 L582.11,624.33 L581.65,624.21 L581.24,624.06 L580.92,623.86 L580.85,623.52 L579.96,623.71 L579.27,623.76 L578.62,623.76 L578.03,623.72 L577.48,623.65 L577.00,623.55 L576.58,623.43 L576.25,623.28 L576.00,623.10 L575.85,622.91 L575.84,622.69 L576.25,622.37 L575.17,622.43 L574.48,622.38 L573.90,622.29 L573.42,622.17 L573.02,622.04 L572.73,621.88 L572.53,621.71 L572.43,621.53 L572.45,621.34 L572.59,621.15 L572.88,620.95 L573.69,620.72 L572.65,620.62 L572.10,620.48 L571.70,620.32 L571.42,620.15 L571.26,619.98 L571.20,619.80 L571.26,619.62 L571.42,619.45 L571.70,619.28 L572.10,619.12 L572.65,618.98 L573.69,618.88 L572.88,618.65 L572.59,618.45 L572.45,618.26 L572.43,618.07 L572.53,617.89 L572.73,617.72 L573.02,617.56 L573.42,617.43 L573.90,617.31 L574.48,617.22 L575.17,617.17 L576.25,617.23 L575.84,616.91 L575.85,616.69 L576.00,616.50 L576.25,616.32 L576.58,616.17 L577.00,616.05 L577.48,615.95 L578.03,615.88 L578.62,615.84 L579.27,615.84 L579.96,615.89 L580.85,616.08 L580.92,615.74 L581.24,615.54 L581.65,615.39 L582.11,615.27 L582.63,615.18 L583.17,615.12 L583.75,615.10 L584.33,615.11 L584.92,615.16 L585.50,615.24 L586.07,615.38 L586.60,615.67 L587.13,615.38 L587.70,615.24 L588.28,615.16 L588.87,615.11 L589.45,615.10 L590.03,615.12 L590.57,615.18 L591.09,615.27 L591.55,615.39 L591.96,615.54 L592.28,615.74 L592.35,616.08 L593.24,615.89 L593.93,615.84 L594.58,615.84 L595.17,615.88 L595.72,615.95 L596.20,616.05 L596.62,616.17 L596.95,616.32 L597.20,616.50 L597.35,616.69 L597.36,616.91 L596.95,617.23 L598.03,617.17 L598.72,617.22 L599.30,617.31 L599.78,617.43 L600.18,617.56 L600.47,617.72 L600.67,617.89 L600.77,618.07 L600.75,618.26 L600.61,618.45 L600.32,618.65 L599.51,618.88 L600.55,618.98 L601.10,619.12 L601.50,619.28 L601.78,619.45 L601.94,619.62 L602.00,619.80 L601.94,619.98 L601.78,620.15 L601.50,620.32 L601.10,620.48 L600.55,620.62Z" fill="url(#disc)"/>
<ellipse cx="586.6" cy="622.3" rx="4.3" ry="3.8" fill="url(#dome)"/>
<ellipse cx="586.6" cy="623.2" rx="2.6" ry="3.1" fill="url(#domec)"/></g>
<g filter="url(#bl)"><path d="M625.21,652.49 L626.02,652.71 L626.31,652.91 L626.45,653.10 L626.47,653.28 L626.37,653.45 L626.17,653.62 L625.88,653.77 L625.48,653.90 L625.00,654.01 L624.42,654.09 L623.73,654.15 L622.65,654.09 L623.06,654.40 L623.05,654.61 L622.90,654.80 L622.65,654.97 L622.32,655.11 L621.90,655.24 L621.42,655.33 L620.87,655.40 L620.28,655.43 L619.63,655.44 L618.94,655.39 L618.05,655.20 L617.98,655.53 L617.66,655.72 L617.25,655.87 L616.79,655.99 L616.27,656.08 L615.73,656.13 L615.15,656.16 L614.57,656.14 L613.98,656.10 L613.40,656.02 L612.83,655.89 L612.30,655.60 L611.77,655.89 L611.20,656.02 L610.62,656.10 L610.03,656.14 L609.45,656.16 L608.87,656.13 L608.33,656.08 L607.81,655.99 L607.35,655.87 L606.94,655.72 L606.62,655.53 L606.55,655.20 L605.66,655.39 L604.97,655.44 L604.32,655.43 L603.73,655.40 L603.18,655.33 L602.70,655.24 L602.28,655.11 L601.95,654.97 L601.70,654.80 L601.55,654.61 L601.54,654.40 L601.95,654.09 L600.87,654.15 L600.18,654.09 L599.60,654.01 L599.12,653.90 L598.72,653.77 L598.43,653.62 L598.23,653.45 L598.13,653.28 L598.15,653.10 L598.29,652.91 L598.58,652.71 L599.39,652.49 L598.35,652.40 L597.80,652.26 L597.40,652.11 L597.12,651.94 L596.96,651.77 L596.90,651.60 L596.96,651.43 L597.12,651.26 L597.40,651.09 L597.80,650.94 L598.35,650.80 L599.39,650.71 L598.58,650.49 L598.29,650.29 L598.15,650.10 L598.13,649.92 L598.23,649.75 L598.43,649.58 L598.72,649.43 L599.12,649.30 L599.60,649.19 L600.18,649.11 L600.87,649.05 L601.95,649.11 L601.54,648.80 L601.55,648.59 L601.70,648.40 L601.95,648.23 L602.28,648.09 L602.70,647.96 L603.18,647.87 L603.73,647.80 L604.32,647.77 L604.97,647.76 L605.66,647.81 L606.55,648.00 L606.62,647.67 L606.94,647.48 L607.35,647.33 L607.81,647.21 L608.33,647.12 L608.87,647.07 L609.45,647.04 L610.03,647.06 L610.62,647.10 L611.20,647.18 L611.77,647.31 L612.30,647.60 L612.83,647.31 L613.40,647.18 L613.98,647.10 L614.57,647.06 L615.15,647.04 L615.73,647.07 L616.27,647.12 L616.79,647.21 L617.25,647.33 L617.66,647.48 L617.98,647.67 L618.05,648.00 L618.94,647.81 L619.63,647.76 L620.28,647.77 L620.87,647.80 L621.42,647.87 L621.90,647.96 L622.32,648.09 L622.65,648.23 L622.90,648.40 L623.05,648.59 L623.06,648.80 L622.65,649.11 L623.73,649.05 L624.42,649.11 L625.00,649.19 L625.48,649.30 L625.88,649.43 L626.17,649.58 L626.37,649.75 L626.47,649.92 L626.45,650.10 L626.31,650.29 L626.02,650.49 L625.21,650.71 L626.25,650.80 L626.80,650.94 L627.20,651.09 L627.48,651.26 L627.64,651.43 L627.70,651.60 L627.64,651.77 L627.48,651.94 L627.20,652.11 L626.80,652.26 L626.25,652.40Z" fill="url(#disc)"/>
<ellipse cx="612.3" cy="654.1" rx="4.3" ry="3.8" fill="url(#dome)"/>
<ellipse cx="612.3" cy="655.0" rx="2.6" ry="3.1" fill="url(#domec)"/></g>
<g filter="url(#bl)"><path d="M615.11,690.63 L615.92,690.79 L616.21,690.93 L616.35,691.06 L616.37,691.19 L616.27,691.32 L616.07,691.43 L615.78,691.54 L615.38,691.63 L614.90,691.71 L614.32,691.77 L613.63,691.81 L612.55,691.77 L612.96,691.99 L612.95,692.14 L612.80,692.27 L612.55,692.39 L612.22,692.49 L611.80,692.58 L611.32,692.65 L610.77,692.70 L610.18,692.72 L609.53,692.72 L608.84,692.69 L607.95,692.56 L607.88,692.79 L607.56,692.93 L607.15,693.03 L606.69,693.12 L606.17,693.18 L605.63,693.22 L605.05,693.23 L604.47,693.23 L603.88,693.19 L603.30,693.13 L602.73,693.04 L602.20,692.84 L601.67,693.04 L601.10,693.13 L600.52,693.19 L599.93,693.23 L599.35,693.23 L598.77,693.22 L598.23,693.18 L597.71,693.12 L597.25,693.03 L596.84,692.93 L596.52,692.79 L596.45,692.56 L595.56,692.69 L594.87,692.72 L594.22,692.72 L593.63,692.70 L593.08,692.65 L592.60,692.58 L592.18,692.49 L591.85,692.39 L591.60,692.27 L591.45,692.14 L591.44,691.99 L591.85,691.77 L590.77,691.81 L590.08,691.77 L589.50,691.71 L589.02,691.63 L588.62,691.54 L588.33,691.43 L588.13,691.32 L588.03,691.19 L588.05,691.06 L588.19,690.93 L588.48,690.79 L589.29,690.63 L588.25,690.57 L587.70,690.47 L587.30,690.36 L587.02,690.24 L586.86,690.12 L586.80,690.00 L586.86,689.88 L587.02,689.76 L587.30,689.64 L587.70,689.53 L588.25,689.43 L589.29,689.37 L588.48,689.21 L588.19,689.07 L588.05,688.94 L588.03,688.81 L588.13,688.68 L588.33,688.57 L588.62,688.46 L589.02,688.37 L589.50,688.29 L590.08,688.23 L590.77,688.19 L591.85,688.23 L591.44,688.01 L591.45,687.86 L591.60,687.73 L591.85,687.61 L592.18,687.51 L592.60,687.42 L593.08,687.35 L593.63,687.30 L594.22,687.28 L594.87,687.28 L595.56,687.31 L596.45,687.44 L596.52,687.21 L596.84,687.07 L597.25,686.97 L597.71,686.88 L598.23,686.82 L598.77,686.78 L599.35,686.77 L599.93,686.77 L600.52,686.81 L601.10,686.87 L601.67,686.96 L602.20,687.16 L602.73,686.96 L603.30,686.87 L603.88,686.81 L604.47,686.77 L605.05,686.77 L605.63,686.78 L606.17,686.82 L606.69,686.88 L607.15,686.97 L607.56,687.07 L607.88,687.21 L607.95,687.44 L608.84,687.31 L609.53,687.28 L610.18,687.28 L610.77,687.30 L611.32,687.35 L611.80,687.42 L612.22,687.51 L612.55,687.61 L612.80,687.73 L612.95,687.86 L612.96,688.01 L612.55,688.23 L613.63,688.19 L614.32,688.23 L614.90,688.29 L615.38,688.37 L615.78,688.46 L616.07,688.57 L616.27,688.68 L616.37,688.81 L616.35,688.94 L616.21,689.07 L615.92,689.21 L615.11,689.37 L616.15,689.43 L616.70,689.53 L617.10,689.64 L617.38,689.76 L617.54,689.88 L617.60,690.00 L617.54,690.12 L617.38,690.24 L617.10,690.36 L616.70,690.47 L616.15,690.57Z" fill="url(#disc)"/>
<ellipse cx="602.2" cy="693.0" rx="4.3" ry="3.5" fill="url(#dome)"/>
<ellipse cx="602.2" cy="693.9" rx="2.6" ry="2.9" fill="url(#domec)"/></g>
<g filter="url(#bl)"><path d="M580.41,711.66 L581.22,711.82 L581.51,711.97 L581.65,712.11 L581.67,712.25 L581.57,712.38 L581.37,712.50 L581.08,712.61 L580.68,712.71 L580.20,712.79 L579.62,712.85 L578.93,712.89 L577.85,712.85 L578.26,713.08 L578.25,713.23 L578.10,713.38 L577.85,713.50 L577.52,713.61 L577.10,713.70 L576.62,713.77 L576.07,713.82 L575.48,713.84 L574.83,713.85 L574.14,713.81 L573.25,713.67 L573.18,713.92 L572.86,714.06 L572.45,714.17 L571.99,714.26 L571.47,714.32 L570.93,714.36 L570.35,714.38 L569.77,714.37 L569.18,714.34 L568.60,714.28 L568.03,714.18 L567.50,713.97 L566.97,714.18 L566.40,714.28 L565.82,714.34 L565.23,714.37 L564.65,714.38 L564.07,714.36 L563.53,714.32 L563.01,714.26 L562.55,714.17 L562.14,714.06 L561.82,713.92 L561.75,713.67 L560.86,713.81 L560.17,713.85 L559.52,713.84 L558.93,713.82 L558.38,713.77 L557.90,713.70 L557.48,713.61 L557.15,713.50 L556.90,713.38 L556.75,713.23 L556.74,713.08 L557.15,712.85 L556.07,712.89 L555.38,712.85 L554.80,712.79 L554.32,712.71 L553.92,712.61 L553.63,712.50 L553.43,712.38 L553.33,712.25 L553.35,712.11 L553.49,711.97 L553.78,711.82 L554.59,711.66 L553.55,711.59 L553.00,711.49 L552.60,711.38 L552.32,711.25 L552.16,711.13 L552.10,711.00 L552.16,710.87 L552.32,710.75 L552.60,710.62 L553.00,710.51 L553.55,710.41 L554.59,710.34 L553.78,710.18 L553.49,710.03 L553.35,709.89 L553.33,709.75 L553.43,709.62 L553.63,709.50 L553.92,709.39 L554.32,709.29 L554.80,709.21 L555.38,709.15 L556.07,709.11 L557.15,709.15 L556.74,708.92 L556.75,708.77 L556.90,708.62 L557.15,708.50 L557.48,708.39 L557.90,708.30 L558.38,708.23 L558.93,708.18 L559.52,708.16 L560.17,708.15 L560.86,708.19 L561.75,708.33 L561.82,708.08 L562.14,707.94 L562.55,707.83 L563.01,707.74 L563.53,707.68 L564.07,707.64 L564.65,707.62 L565.23,707.63 L565.82,707.66 L566.40,707.72 L566.97,707.82 L567.50,708.03 L568.03,707.82 L568.60,707.72 L569.18,707.66 L569.77,707.63 L570.35,707.62 L570.93,707.64 L571.47,707.68 L571.99,707.74 L572.45,707.83 L572.86,707.94 L573.18,708.08 L573.25,708.33 L574.14,708.19 L574.83,708.15 L575.48,708.16 L576.07,708.18 L576.62,708.23 L577.10,708.30 L577.52,708.39 L577.85,708.50 L578.10,708.62 L578.25,708.77 L578.26,708.92 L577.85,709.15 L578.93,709.11 L579.62,709.15 L580.20,709.21 L580.68,709.29 L581.08,709.39 L581.37,709.50 L581.57,709.62 L581.67,709.75 L581.65,709.89 L581.51,710.03 L581.22,710.18 L580.41,710.34 L581.45,710.41 L582.00,710.51 L582.40,710.62 L582.68,710.75 L582.84,710.87 L582.90,711.00 L582.84,711.13 L582.68,711.25 L582.40,711.38 L582.00,711.49 L581.45,711.59Z" fill="url(#disc)"/>
<ellipse cx="567.5" cy="714.0" rx="4.3" ry="3.5" fill="url(#dome)"/>
<ellipse cx="567.5" cy="714.9" rx="2.6" ry="2.9" fill="url(#domec)"/></g>
<g filter="url(#bl)"><path d="M572.41,732.65 L573.22,732.81 L573.51,732.95 L573.65,733.09 L573.67,733.23 L573.57,733.36 L573.37,733.48 L573.08,733.58 L572.68,733.68 L572.20,733.76 L571.62,733.82 L570.93,733.86 L569.85,733.82 L570.26,734.05 L570.25,734.20 L570.10,734.34 L569.85,734.46 L569.52,734.57 L569.10,734.66 L568.62,734.73 L568.07,734.78 L567.48,734.80 L566.83,734.80 L566.14,734.77 L565.25,734.63 L565.18,734.87 L564.86,735.01 L564.45,735.12 L563.99,735.21 L563.47,735.27 L562.93,735.31 L562.35,735.33 L561.77,735.32 L561.18,735.29 L560.60,735.23 L560.03,735.13 L559.50,734.92 L558.97,735.13 L558.40,735.23 L557.82,735.29 L557.23,735.32 L556.65,735.33 L556.07,735.31 L555.53,735.27 L555.01,735.21 L554.55,735.12 L554.14,735.01 L553.82,734.87 L553.75,734.63 L552.86,734.77 L552.17,734.80 L551.52,734.80 L550.93,734.78 L550.38,734.73 L549.90,734.66 L549.48,734.57 L549.15,734.46 L548.90,734.34 L548.75,734.20 L548.74,734.05 L549.15,733.82 L548.07,733.86 L547.38,733.82 L546.80,733.76 L546.32,733.68 L545.92,733.58 L545.63,733.48 L545.43,733.36 L545.33,733.23 L545.35,733.09 L545.49,732.95 L545.78,732.81 L546.59,732.65 L545.55,732.58 L545.00,732.48 L544.60,732.37 L544.32,732.25 L544.16,732.13 L544.10,732.00 L544.16,731.87 L544.32,731.75 L544.60,731.63 L545.00,731.52 L545.55,731.42 L546.59,731.35 L545.78,731.19 L545.49,731.05 L545.35,730.91 L545.33,730.77 L545.43,730.64 L545.63,730.52 L545.92,730.42 L546.32,730.32 L546.80,730.24 L547.38,730.18 L548.07,730.14 L549.15,730.18 L548.74,729.95 L548.75,729.80 L548.90,729.66 L549.15,729.54 L549.48,729.43 L549.90,729.34 L550.38,729.27 L550.93,729.22 L551.52,729.20 L552.17,729.20 L552.86,729.23 L553.75,729.37 L553.82,729.13 L554.14,728.99 L554.55,728.88 L555.01,728.79 L555.53,728.73 L556.07,728.69 L556.65,728.67 L557.23,728.68 L557.82,728.71 L558.40,728.77 L558.97,728.87 L559.50,729.08 L560.03,728.87 L560.60,728.77 L561.18,728.71 L561.77,728.68 L562.35,728.67 L562.93,728.69 L563.47,728.73 L563.99,728.79 L564.45,728.88 L564.86,728.99 L565.18,729.13 L565.25,729.37 L566.14,729.23 L566.83,729.20 L567.48,729.20 L568.07,729.22 L568.62,729.27 L569.10,729.34 L569.52,729.43 L569.85,729.54 L570.10,729.66 L570.25,729.80 L570.26,729.95 L569.85,730.18 L570.93,730.14 L571.62,730.18 L572.20,730.24 L572.68,730.32 L573.08,730.42 L573.37,730.52 L573.57,730.64 L573.67,730.77 L573.65,730.91 L573.51,731.05 L573.22,731.19 L572.41,731.35 L573.45,731.42 L574.00,731.52 L574.40,731.63 L574.68,731.75 L574.84,731.87 L574.90,732.00 L574.84,732.13 L574.68,732.25 L574.40,732.37 L574.00,732.48 L573.45,732.58Z" fill="url(#disc)"/>
<ellipse cx="559.5" cy="735.0" rx="4.3" ry="3.5" fill="url(#dome)"/>
<ellipse cx="559.5" cy="735.9" rx="2.6" ry="2.9" fill="url(#domec)"/></g>
<g filter="url(#bl)"><path d="M599.21,760.65 L600.02,760.81 L600.31,760.95 L600.45,761.09 L600.47,761.23 L600.37,761.36 L600.17,761.48 L599.88,761.58 L599.48,761.68 L599.00,761.76 L598.42,761.82 L597.73,761.86 L596.65,761.82 L597.06,762.05 L597.05,762.20 L596.90,762.34 L596.65,762.46 L596.32,762.57 L595.90,762.66 L595.42,762.73 L594.87,762.78 L594.28,762.80 L593.63,762.80 L592.94,762.77 L592.05,762.63 L591.98,762.87 L591.66,763.01 L591.25,763.12 L590.79,763.21 L590.27,763.27 L589.73,763.31 L589.15,763.33 L588.57,763.32 L587.98,763.29 L587.40,763.23 L586.83,763.13 L586.30,762.92 L585.77,763.13 L585.20,763.23 L584.62,763.29 L584.03,763.32 L583.45,763.33 L582.87,763.31 L582.33,763.27 L581.81,763.21 L581.35,763.12 L580.94,763.01 L580.62,762.87 L580.55,762.63 L579.66,762.77 L578.97,762.80 L578.32,762.80 L577.73,762.78 L577.18,762.73 L576.70,762.66 L576.28,762.57 L575.95,762.46 L575.70,762.34 L575.55,762.20 L575.54,762.05 L575.95,761.82 L574.87,761.86 L574.18,761.82 L573.60,761.76 L573.12,761.68 L572.72,761.58 L572.43,761.48 L572.23,761.36 L572.13,761.23 L572.15,761.09 L572.29,760.95 L572.58,760.81 L573.39,760.65 L572.35,760.58 L571.80,760.48 L571.40,760.37 L571.12,760.25 L570.96,760.13 L570.90,760.00 L570.96,759.87 L571.12,759.75 L571.40,759.63 L571.80,759.52 L572.35,759.42 L573.39,759.35 L572.58,759.19 L572.29,759.05 L572.15,758.91 L572.13,758.77 L572.23,758.64 L572.43,758.52 L572.72,758.42 L573.12,758.32 L573.60,758.24 L574.18,758.18 L574.87,758.14 L575.95,758.18 L575.54,757.95 L575.55,757.80 L575.70,757.66 L575.95,757.54 L576.28,757.43 L576.70,757.34 L577.18,757.27 L577.73,757.22 L578.32,757.20 L578.97,757.20 L579.66,757.23 L580.55,757.37 L580.62,757.13 L580.94,756.99 L581.35,756.88 L581.81,756.79 L582.33,756.73 L582.87,756.69 L583.45,756.67 L584.03,756.68 L584.62,756.71 L585.20,756.77 L585.77,756.87 L586.30,757.08 L586.83,756.87 L587.40,756.77 L587.98,756.71 L588.57,756.68 L589.15,756.67 L589.73,756.69 L590.27,756.73 L590.79,756.79 L591.25,756.88 L591.66,756.99 L591.98,757.13 L592.05,757.37 L592.94,757.23 L593.63,757.20 L594.28,757.20 L594.87,757.22 L595.42,757.27 L595.90,757.34 L596.32,757.43 L596.65,757.54 L596.90,757.66 L597.05,757.80 L597.06,757.95 L596.65,758.18 L597.73,758.14 L598.42,758.18 L599.00,758.24 L599.48,758.32 L599.88,758.42 L600.17,758.52 L600.37,758.64 L600.47,758.77 L600.45,758.91 L600.31,759.05 L600.02,759.19 L599.21,759.35 L600.25,759.42 L600.80,759.52 L601.20,759.63 L601.48,759.75 L601.64,759.87 L601.70,760.00 L601.64,760.13 L601.48,760.25 L601.20,760.37 L600.80,760.48 L600.25,760.58Z" fill="url(#disc)"/>
<ellipse cx="586.3" cy="763.0" rx="4.3" ry="3.5" fill="url(#dome)"/>
<ellipse cx="586.3" cy="763.9" rx="2.6" ry="2.9" fill="url(#domec)"/></g>
<line x1="505.5" y1="53.4" x2="672.5" y2="53.4" stroke="#e8e8e8" stroke-width="1.6"/>
<line x1="505.5" y1="43.5" x2="505.5" y2="65" stroke="#ececec" stroke-width="1.1"/>
<line x1="672.5" y1="43" x2="672.5" y2="64" stroke="#ececec" stroke-width="1.1"/>
<line x1="401.5" y1="63.5" x2="401.5" y2="792.5" stroke="#f4f4f4" stroke-width="1.3"/>
<line x1="390" y1="63.5" x2="413" y2="63.5" stroke="#f4f4f4" stroke-width="1.3"/>
<line x1="390" y1="792.5" x2="413" y2="792.5" stroke="#f4f4f4" stroke-width="1.3"/>
</svg>
<div class="t m" style="-webkit-text-stroke:0.9px #f8f8f8;left:49px;top:65.8px;font-size:35px;letter-spacing:0.1px;transform-origin:0 0;transform:scaleX(0.9)">25 heads</div>
<div class="t" style="left:24px;top:107px;font-size:24.5px;letter-spacing:0.25px">Round chassis</div>
<div class="t m" style="left:64.7px;top:142px;font-size:25.5px;letter-spacing:1.2px;transform-origin:0 0;transform:scaleX(0.9)">5wires</div>
<div class="t" style="left:83px;top:281px;font-size:23.5px;letter-spacing:0.2px">Size</div>
<div class="t m" style="left:34px;top:312.5px;font-size:25.5px;letter-spacing:1.05px;transform-origin:0 0;transform:scaleX(0.91)">D50*H630cm</div>
<div class="t" style="left:42px;top:461px;font-size:24px;letter-spacing:0.8px">Light source</div>
<div class="t" style="left:79px;top:499px;font-size:23.5px;letter-spacing:-1.3px">LED</div>
<div class="t" style="left:12px;top:642px;font-size:23px;letter-spacing:1.2px">Material Science</div>
<div class="t" style="left:8px;top:676px;font-size:23px;letter-spacing:0.65px;word-spacing:-3.5px">Aluminum + acrylic</div>
<div class="t m" style="left:553px;top:14.5px;font-size:25.5px;letter-spacing:1.25px;transform-origin:0 0;transform:scaleX(0.92)">D50cm</div>
<div class="t m" style="left:272px;top:325px;font-size:24px;letter-spacing:1.55px;transform-origin:0 0;transform:scaleX(0.93)">H630cm</div>
<div class="t" style="left:256px;top:352px;font-size:24px;letter-spacing:1.1px">Adjustable</div>
</body></html>
